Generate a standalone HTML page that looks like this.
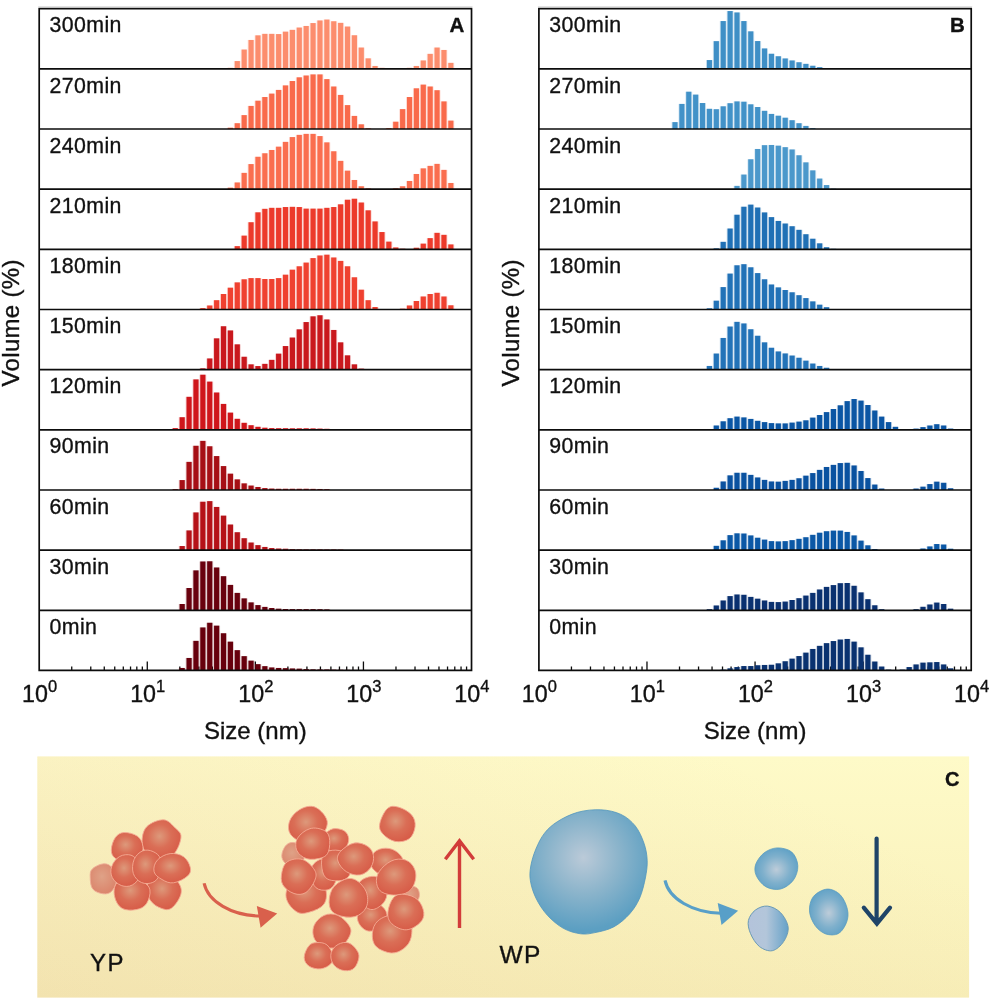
<!DOCTYPE html>
<html lang="en"><head><meta charset="utf-8"><title>Particle size distributions</title>
<style>
html,body{margin:0;padding:0;background:#fff;}
body{width:991px;height:1006px;overflow:hidden;font-family:"Liberation Sans",Arial,sans-serif;}
svg{display:block;}
text{stroke:#111;stroke-width:.35px;}
</style></head><body>
<svg width="991" height="1006" viewBox="0 0 991 1006" font-family="'Liberation Sans', Arial, sans-serif" fill="#111">
<defs>
<linearGradient id="bgv" x1="0" y1="0" x2="0" y2="1"><stop offset="0" stop-color="#fefac8"/><stop offset="1" stop-color="#f8efb8"/></linearGradient>
<linearGradient id="bgh" x1="0" y1="1" x2="1" y2="0.5"><stop offset="0" stop-color="#c68168" stop-opacity="0.11"/><stop offset="1" stop-color="#c68168" stop-opacity="0"/></linearGradient>
<radialGradient id="rg" cx="0.45" cy="0.42" r="0.6"><stop offset="0" stop-color="#dd997b"/><stop offset="0.5" stop-color="#da6e56"/><stop offset="1" stop-color="#d75b47"/></radialGradient>
<radialGradient id="rgl" cx="0.45" cy="0.42" r="0.6"><stop offset="0" stop-color="#dfa287"/><stop offset="1" stop-color="#db846b"/></radialGradient>
<radialGradient id="bg1" gradientUnits="userSpaceOnUse" cx="583.4" cy="857.7" r="72"><stop offset="0" stop-color="#bbcad8"/><stop offset="0.5" stop-color="#8bb4cb"/><stop offset="1" stop-color="#5c9fc2"/></radialGradient>
<radialGradient id="bg2" cx="0.5" cy="0.52" r="0.58"><stop offset="0" stop-color="#bdccd9"/><stop offset="0.55" stop-color="#7fb0cc"/><stop offset="1" stop-color="#5b9fc5"/></radialGradient>
<linearGradient id="bg3" x1="0" y1="0" x2="1" y2="0"><stop offset="0" stop-color="#b4c3db"/><stop offset="0.45" stop-color="#b3c6da"/><stop offset="1" stop-color="#66a2c8"/></linearGradient>
</defs>

<g>
<path d="M71.74 670.46v-4M90.77 670.46v-4M104.27 670.46v-4M114.74 670.46v-4M123.3 670.46v-4M130.54 670.46v-4M136.81 670.46v-4M142.33 670.46v-4M147.28 670.46v-9M179.82 670.46v-4M198.85 670.46v-4M212.35 670.46v-4M222.82 670.46v-4M231.38 670.46v-4M238.62 670.46v-4M244.89 670.46v-4M250.41 670.46v-4M255.36 670.46v-9M287.9 670.46v-4M306.93 670.46v-4M320.43 670.46v-4M330.9 670.46v-4M339.46 670.46v-4M346.7 670.46v-4M352.97 670.46v-4M358.49 670.46v-4M363.44 670.46v-9M395.98 670.46v-4M415.01 670.46v-4M428.51 670.46v-4M438.98 670.46v-4M447.54 670.46v-4M454.78 670.46v-4M461.05 670.46v-4M466.57 670.46v-4" stroke="#0d0d0d" stroke-width="1.3" fill="none"/>
<g fill="#fc8d6d" opacity="0.22"><rect x="226.97" y="67.86" width="6.89" height="1"/><rect x="233.86" y="61.06" width="6.89" height="7.8"/><rect x="240.74" y="49.56" width="6.89" height="19.3"/><rect x="247.63" y="39.96" width="6.89" height="28.9"/><rect x="254.52" y="35.36" width="6.89" height="33.5"/><rect x="261.41" y="33.86" width="6.89" height="35"/><rect x="268.3" y="33.86" width="6.89" height="35"/><rect x="275.19" y="34.06" width="6.89" height="34.8"/><rect x="282.08" y="31.66" width="6.89" height="37.2"/><rect x="288.97" y="29.86" width="6.89" height="39"/><rect x="295.85" y="27.56" width="6.89" height="41.3"/><rect x="302.74" y="25.96" width="6.89" height="42.9"/><rect x="309.63" y="23.06" width="6.89" height="45.8"/><rect x="316.52" y="20.46" width="6.89" height="48.4"/><rect x="323.41" y="19.56" width="6.89" height="49.3"/><rect x="330.3" y="21.26" width="6.89" height="47.6"/><rect x="337.19" y="22.86" width="6.89" height="46"/><rect x="344.08" y="26.56" width="6.89" height="42.3"/><rect x="350.97" y="35.26" width="6.89" height="33.6"/><rect x="357.85" y="47.56" width="6.89" height="21.3"/><rect x="364.74" y="58.36" width="6.89" height="10.5"/><rect x="371.63" y="65.96" width="6.89" height="2.9"/><rect x="378.52" y="67.86" width="6.89" height="1"/><rect x="406.08" y="67.86" width="6.89" height="1"/><rect x="412.96" y="65.96" width="6.89" height="2.9"/><rect x="419.85" y="60.46" width="6.89" height="8.4"/><rect x="426.74" y="53.86" width="6.89" height="15"/><rect x="433.63" y="47.56" width="6.89" height="21.3"/><rect x="440.52" y="49.96" width="6.89" height="18.9"/><rect x="447.41" y="62.86" width="6.89" height="6"/></g>
<g fill="#fc8d6d"><rect x="227.84" y="67.86" width="5.15" height="1"/><rect x="234.72" y="61.06" width="5.15" height="7.8"/><rect x="241.61" y="49.56" width="5.15" height="19.3"/><rect x="248.5" y="39.96" width="5.15" height="28.9"/><rect x="255.39" y="35.36" width="5.15" height="33.5"/><rect x="262.28" y="33.86" width="5.15" height="35"/><rect x="269.17" y="33.86" width="5.15" height="35"/><rect x="276.06" y="34.06" width="5.15" height="34.8"/><rect x="282.95" y="31.66" width="5.15" height="37.2"/><rect x="289.84" y="29.86" width="5.15" height="39"/><rect x="296.72" y="27.56" width="5.15" height="41.3"/><rect x="303.61" y="25.96" width="5.15" height="42.9"/><rect x="310.5" y="23.06" width="5.15" height="45.8"/><rect x="317.39" y="20.46" width="5.15" height="48.4"/><rect x="324.28" y="19.56" width="5.15" height="49.3"/><rect x="331.17" y="21.26" width="5.15" height="47.6"/><rect x="338.06" y="22.86" width="5.15" height="46"/><rect x="344.95" y="26.56" width="5.15" height="42.3"/><rect x="351.83" y="35.26" width="5.15" height="33.6"/><rect x="358.72" y="47.56" width="5.15" height="21.3"/><rect x="365.61" y="58.36" width="5.15" height="10.5"/><rect x="372.5" y="65.96" width="5.15" height="2.9"/><rect x="379.39" y="67.86" width="5.15" height="1"/><rect x="406.95" y="67.86" width="5.15" height="1"/><rect x="413.83" y="65.96" width="5.15" height="2.9"/><rect x="420.72" y="60.46" width="5.15" height="8.4"/><rect x="427.61" y="53.86" width="5.15" height="15"/><rect x="434.5" y="47.56" width="5.15" height="21.3"/><rect x="441.39" y="49.96" width="5.15" height="18.9"/><rect x="448.28" y="62.86" width="5.15" height="6"/></g>
<g fill="#f96a4b" opacity="0.22"><rect x="226.97" y="127.72" width="6.89" height="1.3"/><rect x="233.86" y="123.22" width="6.89" height="5.8"/><rect x="240.74" y="115.12" width="6.89" height="13.9"/><rect x="247.63" y="105.92" width="6.89" height="23.1"/><rect x="254.52" y="100.72" width="6.89" height="28.3"/><rect x="261.41" y="97.02" width="6.89" height="32"/><rect x="268.3" y="93.62" width="6.89" height="35.4"/><rect x="275.19" y="89.92" width="6.89" height="39.1"/><rect x="282.08" y="85.42" width="6.89" height="43.6"/><rect x="288.97" y="81.02" width="6.89" height="48"/><rect x="295.85" y="77.32" width="6.89" height="51.7"/><rect x="302.74" y="75.52" width="6.89" height="53.5"/><rect x="309.63" y="74.42" width="6.89" height="54.6"/><rect x="316.52" y="74.42" width="6.89" height="54.6"/><rect x="323.41" y="79.12" width="6.89" height="49.9"/><rect x="330.3" y="86.52" width="6.89" height="42.5"/><rect x="337.19" y="94.92" width="6.89" height="34.1"/><rect x="344.08" y="105.12" width="6.89" height="23.9"/><rect x="350.97" y="115.92" width="6.89" height="13.1"/><rect x="357.85" y="124.32" width="6.89" height="4.7"/><rect x="364.74" y="128.22" width="6.89" height="0.8"/><rect x="385.41" y="128.02" width="6.89" height="1"/><rect x="392.3" y="121.72" width="6.89" height="7.3"/><rect x="399.19" y="109.12" width="6.89" height="19.9"/><rect x="406.08" y="97.02" width="6.89" height="32"/><rect x="412.96" y="88.32" width="6.89" height="40.7"/><rect x="419.85" y="84.62" width="6.89" height="44.4"/><rect x="426.74" y="86.52" width="6.89" height="42.5"/><rect x="433.63" y="90.22" width="6.89" height="38.8"/><rect x="440.52" y="101.42" width="6.89" height="27.6"/><rect x="447.41" y="120.62" width="6.89" height="8.4"/></g>
<g fill="#f96a4b"><rect x="227.84" y="127.72" width="5.15" height="1.3"/><rect x="234.72" y="123.22" width="5.15" height="5.8"/><rect x="241.61" y="115.12" width="5.15" height="13.9"/><rect x="248.5" y="105.92" width="5.15" height="23.1"/><rect x="255.39" y="100.72" width="5.15" height="28.3"/><rect x="262.28" y="97.02" width="5.15" height="32"/><rect x="269.17" y="93.62" width="5.15" height="35.4"/><rect x="276.06" y="89.92" width="5.15" height="39.1"/><rect x="282.95" y="85.42" width="5.15" height="43.6"/><rect x="289.84" y="81.02" width="5.15" height="48"/><rect x="296.72" y="77.32" width="5.15" height="51.7"/><rect x="303.61" y="75.52" width="5.15" height="53.5"/><rect x="310.5" y="74.42" width="5.15" height="54.6"/><rect x="317.39" y="74.42" width="5.15" height="54.6"/><rect x="324.28" y="79.12" width="5.15" height="49.9"/><rect x="331.17" y="86.52" width="5.15" height="42.5"/><rect x="338.06" y="94.92" width="5.15" height="34.1"/><rect x="344.95" y="105.12" width="5.15" height="23.9"/><rect x="351.83" y="115.92" width="5.15" height="13.1"/><rect x="358.72" y="124.32" width="5.15" height="4.7"/><rect x="365.61" y="128.22" width="5.15" height="0.8"/><rect x="386.28" y="128.02" width="5.15" height="1"/><rect x="393.17" y="121.72" width="5.15" height="7.3"/><rect x="400.06" y="109.12" width="5.15" height="19.9"/><rect x="406.95" y="97.02" width="5.15" height="32"/><rect x="413.83" y="88.32" width="5.15" height="40.7"/><rect x="420.72" y="84.62" width="5.15" height="44.4"/><rect x="427.61" y="86.52" width="5.15" height="42.5"/><rect x="434.5" y="90.22" width="5.15" height="38.8"/><rect x="441.39" y="101.42" width="5.15" height="27.6"/><rect x="448.28" y="120.62" width="5.15" height="8.4"/></g>
<g fill="#fa6e4f" opacity="0.22"><rect x="226.97" y="187.68" width="6.89" height="1.5"/><rect x="233.86" y="182.48" width="6.89" height="6.7"/><rect x="240.74" y="172.88" width="6.89" height="16.3"/><rect x="247.63" y="164.08" width="6.89" height="25.1"/><rect x="254.52" y="156.78" width="6.89" height="32.4"/><rect x="261.41" y="153.28" width="6.89" height="35.9"/><rect x="268.3" y="149.98" width="6.89" height="39.2"/><rect x="275.19" y="146.68" width="6.89" height="42.5"/><rect x="282.08" y="141.88" width="6.89" height="47.3"/><rect x="288.97" y="137.08" width="6.89" height="52.1"/><rect x="295.85" y="134.88" width="6.89" height="54.3"/><rect x="302.74" y="133.88" width="6.89" height="55.3"/><rect x="309.63" y="133.88" width="6.89" height="55.3"/><rect x="316.52" y="136.08" width="6.89" height="53.1"/><rect x="323.41" y="142.38" width="6.89" height="46.8"/><rect x="330.3" y="151.28" width="6.89" height="37.9"/><rect x="337.19" y="160.88" width="6.89" height="28.3"/><rect x="344.08" y="170.68" width="6.89" height="18.5"/><rect x="350.97" y="179.98" width="6.89" height="9.2"/><rect x="357.85" y="186.28" width="6.89" height="2.9"/><rect x="364.74" y="188.28" width="6.89" height="0.9"/><rect x="392.3" y="188.28" width="6.89" height="0.9"/><rect x="399.19" y="186.28" width="6.89" height="2.9"/><rect x="406.08" y="180.98" width="6.89" height="8.2"/><rect x="412.96" y="173.98" width="6.89" height="15.2"/><rect x="419.85" y="168.38" width="6.89" height="20.8"/><rect x="426.74" y="165.88" width="6.89" height="23.3"/><rect x="433.63" y="163.88" width="6.89" height="25.3"/><rect x="440.52" y="169.88" width="6.89" height="19.3"/><rect x="447.41" y="182.98" width="6.89" height="6.2"/></g>
<g fill="#fa6e4f"><rect x="227.84" y="187.68" width="5.15" height="1.5"/><rect x="234.72" y="182.48" width="5.15" height="6.7"/><rect x="241.61" y="172.88" width="5.15" height="16.3"/><rect x="248.5" y="164.08" width="5.15" height="25.1"/><rect x="255.39" y="156.78" width="5.15" height="32.4"/><rect x="262.28" y="153.28" width="5.15" height="35.9"/><rect x="269.17" y="149.98" width="5.15" height="39.2"/><rect x="276.06" y="146.68" width="5.15" height="42.5"/><rect x="282.95" y="141.88" width="5.15" height="47.3"/><rect x="289.84" y="137.08" width="5.15" height="52.1"/><rect x="296.72" y="134.88" width="5.15" height="54.3"/><rect x="303.61" y="133.88" width="5.15" height="55.3"/><rect x="310.5" y="133.88" width="5.15" height="55.3"/><rect x="317.39" y="136.08" width="5.15" height="53.1"/><rect x="324.28" y="142.38" width="5.15" height="46.8"/><rect x="331.17" y="151.28" width="5.15" height="37.9"/><rect x="338.06" y="160.88" width="5.15" height="28.3"/><rect x="344.95" y="170.68" width="5.15" height="18.5"/><rect x="351.83" y="179.98" width="5.15" height="9.2"/><rect x="358.72" y="186.28" width="5.15" height="2.9"/><rect x="365.61" y="188.28" width="5.15" height="0.9"/><rect x="393.17" y="188.28" width="5.15" height="0.9"/><rect x="400.06" y="186.28" width="5.15" height="2.9"/><rect x="406.95" y="180.98" width="5.15" height="8.2"/><rect x="413.83" y="173.98" width="5.15" height="15.2"/><rect x="420.72" y="168.38" width="5.15" height="20.8"/><rect x="427.61" y="165.88" width="5.15" height="23.3"/><rect x="434.5" y="163.88" width="5.15" height="25.3"/><rect x="441.39" y="169.88" width="5.15" height="19.3"/><rect x="448.28" y="182.98" width="5.15" height="6.2"/></g>
<g fill="#ec3a2b" opacity="0.22"><rect x="233.86" y="246.14" width="6.89" height="3.2"/><rect x="240.74" y="235.64" width="6.89" height="13.7"/><rect x="247.63" y="222.24" width="6.89" height="27.1"/><rect x="254.52" y="212.34" width="6.89" height="37"/><rect x="261.41" y="208.84" width="6.89" height="40.5"/><rect x="268.3" y="207.84" width="6.89" height="41.5"/><rect x="275.19" y="207.84" width="6.89" height="41.5"/><rect x="282.08" y="207.04" width="6.89" height="42.3"/><rect x="288.97" y="206.84" width="6.89" height="42.5"/><rect x="295.85" y="207.04" width="6.89" height="42.3"/><rect x="302.74" y="208.64" width="6.89" height="40.7"/><rect x="309.63" y="208.64" width="6.89" height="40.7"/><rect x="316.52" y="208.64" width="6.89" height="40.7"/><rect x="323.41" y="207.84" width="6.89" height="41.5"/><rect x="330.3" y="207.04" width="6.89" height="42.3"/><rect x="337.19" y="204.34" width="6.89" height="45"/><rect x="344.08" y="199.74" width="6.89" height="49.6"/><rect x="350.97" y="198.74" width="6.89" height="50.6"/><rect x="357.85" y="202.54" width="6.89" height="46.8"/><rect x="364.74" y="210.34" width="6.89" height="39"/><rect x="371.63" y="221.44" width="6.89" height="27.9"/><rect x="378.52" y="232.04" width="6.89" height="17.3"/><rect x="385.41" y="241.64" width="6.89" height="7.7"/><rect x="392.3" y="247.44" width="6.89" height="1.9"/><rect x="399.19" y="248.74" width="6.89" height="0.6"/><rect x="412.96" y="247.74" width="6.89" height="1.6"/><rect x="419.85" y="243.64" width="6.89" height="5.7"/><rect x="426.74" y="238.14" width="6.89" height="11.2"/><rect x="433.63" y="232.84" width="6.89" height="16.5"/><rect x="440.52" y="234.84" width="6.89" height="14.5"/><rect x="447.41" y="244.44" width="6.89" height="4.9"/></g>
<g fill="#ec3a2b"><rect x="234.72" y="246.14" width="5.15" height="3.2"/><rect x="241.61" y="235.64" width="5.15" height="13.7"/><rect x="248.5" y="222.24" width="5.15" height="27.1"/><rect x="255.39" y="212.34" width="5.15" height="37"/><rect x="262.28" y="208.84" width="5.15" height="40.5"/><rect x="269.17" y="207.84" width="5.15" height="41.5"/><rect x="276.06" y="207.84" width="5.15" height="41.5"/><rect x="282.95" y="207.04" width="5.15" height="42.3"/><rect x="289.84" y="206.84" width="5.15" height="42.5"/><rect x="296.72" y="207.04" width="5.15" height="42.3"/><rect x="303.61" y="208.64" width="5.15" height="40.7"/><rect x="310.5" y="208.64" width="5.15" height="40.7"/><rect x="317.39" y="208.64" width="5.15" height="40.7"/><rect x="324.28" y="207.84" width="5.15" height="41.5"/><rect x="331.17" y="207.04" width="5.15" height="42.3"/><rect x="338.06" y="204.34" width="5.15" height="45"/><rect x="344.95" y="199.74" width="5.15" height="49.6"/><rect x="351.83" y="198.74" width="5.15" height="50.6"/><rect x="358.72" y="202.54" width="5.15" height="46.8"/><rect x="365.61" y="210.34" width="5.15" height="39"/><rect x="372.5" y="221.44" width="5.15" height="27.9"/><rect x="379.39" y="232.04" width="5.15" height="17.3"/><rect x="386.28" y="241.64" width="5.15" height="7.7"/><rect x="393.17" y="247.44" width="5.15" height="1.9"/><rect x="400.06" y="248.74" width="5.15" height="0.6"/><rect x="413.83" y="247.74" width="5.15" height="1.6"/><rect x="420.72" y="243.64" width="5.15" height="5.7"/><rect x="427.61" y="238.14" width="5.15" height="11.2"/><rect x="434.5" y="232.84" width="5.15" height="16.5"/><rect x="441.39" y="234.84" width="5.15" height="14.5"/><rect x="448.28" y="244.44" width="5.15" height="4.9"/></g>
<g fill="#ef4130" opacity="0.22"><rect x="199.41" y="308.1" width="6.89" height="1.4"/><rect x="206.3" y="305.5" width="6.89" height="4"/><rect x="213.19" y="300.2" width="6.89" height="9.3"/><rect x="220.08" y="294" width="6.89" height="15.5"/><rect x="226.97" y="287.7" width="6.89" height="21.8"/><rect x="233.86" y="282.4" width="6.89" height="27.1"/><rect x="240.74" y="279.3" width="6.89" height="30.2"/><rect x="247.63" y="278.1" width="6.89" height="31.4"/><rect x="254.52" y="278.1" width="6.89" height="31.4"/><rect x="261.41" y="279" width="6.89" height="30.5"/><rect x="268.3" y="279" width="6.89" height="30.5"/><rect x="275.19" y="278.1" width="6.89" height="31.4"/><rect x="282.08" y="274.7" width="6.89" height="34.8"/><rect x="288.97" y="269.7" width="6.89" height="39.8"/><rect x="295.85" y="266.3" width="6.89" height="43.2"/><rect x="302.74" y="262.6" width="6.89" height="46.9"/><rect x="309.63" y="258.1" width="6.89" height="51.4"/><rect x="316.52" y="255.5" width="6.89" height="54"/><rect x="323.41" y="254.7" width="6.89" height="54.8"/><rect x="330.3" y="257.5" width="6.89" height="52"/><rect x="337.19" y="260.9" width="6.89" height="48.6"/><rect x="344.08" y="266.3" width="6.89" height="43.2"/><rect x="350.97" y="277.3" width="6.89" height="32.2"/><rect x="357.85" y="289.7" width="6.89" height="19.8"/><rect x="364.74" y="300.2" width="6.89" height="9.3"/><rect x="371.63" y="307" width="6.89" height="2.5"/><rect x="399.19" y="308.7" width="6.89" height="0.8"/><rect x="406.08" y="305.5" width="6.89" height="4"/><rect x="412.96" y="301" width="6.89" height="8.5"/><rect x="419.85" y="296.5" width="6.89" height="13"/><rect x="426.74" y="294" width="6.89" height="15.5"/><rect x="433.63" y="292.8" width="6.89" height="16.7"/><rect x="440.52" y="296.5" width="6.89" height="13"/><rect x="447.41" y="305.3" width="6.89" height="4.2"/></g>
<g fill="#ef4130"><rect x="200.28" y="308.1" width="5.15" height="1.4"/><rect x="207.17" y="305.5" width="5.15" height="4"/><rect x="214.06" y="300.2" width="5.15" height="9.3"/><rect x="220.95" y="294" width="5.15" height="15.5"/><rect x="227.84" y="287.7" width="5.15" height="21.8"/><rect x="234.72" y="282.4" width="5.15" height="27.1"/><rect x="241.61" y="279.3" width="5.15" height="30.2"/><rect x="248.5" y="278.1" width="5.15" height="31.4"/><rect x="255.39" y="278.1" width="5.15" height="31.4"/><rect x="262.28" y="279" width="5.15" height="30.5"/><rect x="269.17" y="279" width="5.15" height="30.5"/><rect x="276.06" y="278.1" width="5.15" height="31.4"/><rect x="282.95" y="274.7" width="5.15" height="34.8"/><rect x="289.84" y="269.7" width="5.15" height="39.8"/><rect x="296.72" y="266.3" width="5.15" height="43.2"/><rect x="303.61" y="262.6" width="5.15" height="46.9"/><rect x="310.5" y="258.1" width="5.15" height="51.4"/><rect x="317.39" y="255.5" width="5.15" height="54"/><rect x="324.28" y="254.7" width="5.15" height="54.8"/><rect x="331.17" y="257.5" width="5.15" height="52"/><rect x="338.06" y="260.9" width="5.15" height="48.6"/><rect x="344.95" y="266.3" width="5.15" height="43.2"/><rect x="351.83" y="277.3" width="5.15" height="32.2"/><rect x="358.72" y="289.7" width="5.15" height="19.8"/><rect x="365.61" y="300.2" width="5.15" height="9.3"/><rect x="372.5" y="307" width="5.15" height="2.5"/><rect x="400.06" y="308.7" width="5.15" height="0.8"/><rect x="406.95" y="305.5" width="5.15" height="4"/><rect x="413.83" y="301" width="5.15" height="8.5"/><rect x="420.72" y="296.5" width="5.15" height="13"/><rect x="427.61" y="294" width="5.15" height="15.5"/><rect x="434.5" y="292.8" width="5.15" height="16.7"/><rect x="441.39" y="296.5" width="5.15" height="13"/><rect x="448.28" y="305.3" width="5.15" height="4.2"/></g>
<g fill="#c9181d" opacity="0.22"><rect x="199.41" y="368.36" width="6.89" height="1.3"/><rect x="206.3" y="358.46" width="6.89" height="11.2"/><rect x="213.19" y="338.36" width="6.89" height="31.3"/><rect x="220.08" y="326.26" width="6.89" height="43.4"/><rect x="226.97" y="330.46" width="6.89" height="39.2"/><rect x="233.86" y="344.36" width="6.89" height="25.3"/><rect x="240.74" y="356.76" width="6.89" height="12.9"/><rect x="247.63" y="364.36" width="6.89" height="5.3"/><rect x="254.52" y="366.06" width="6.89" height="3.6"/><rect x="261.41" y="363.86" width="6.89" height="5.8"/><rect x="268.3" y="359.86" width="6.89" height="9.8"/><rect x="275.19" y="353.66" width="6.89" height="16"/><rect x="282.08" y="346.06" width="6.89" height="23.6"/><rect x="288.97" y="337.56" width="6.89" height="32.1"/><rect x="295.85" y="329.36" width="6.89" height="40.3"/><rect x="302.74" y="322.06" width="6.89" height="47.6"/><rect x="309.63" y="316.36" width="6.89" height="53.3"/><rect x="316.52" y="315.26" width="6.89" height="54.4"/><rect x="323.41" y="319.46" width="6.89" height="50.2"/><rect x="330.3" y="329.96" width="6.89" height="39.7"/><rect x="337.19" y="342.36" width="6.89" height="27.3"/><rect x="344.08" y="355.36" width="6.89" height="14.3"/><rect x="350.97" y="364.36" width="6.89" height="5.3"/><rect x="357.85" y="368.66" width="6.89" height="1"/></g>
<g fill="#c9181d"><rect x="200.28" y="368.36" width="5.15" height="1.3"/><rect x="207.17" y="358.46" width="5.15" height="11.2"/><rect x="214.06" y="338.36" width="5.15" height="31.3"/><rect x="220.95" y="326.26" width="5.15" height="43.4"/><rect x="227.84" y="330.46" width="5.15" height="39.2"/><rect x="234.72" y="344.36" width="5.15" height="25.3"/><rect x="241.61" y="356.76" width="5.15" height="12.9"/><rect x="248.5" y="364.36" width="5.15" height="5.3"/><rect x="255.39" y="366.06" width="5.15" height="3.6"/><rect x="262.28" y="363.86" width="5.15" height="5.8"/><rect x="269.17" y="359.86" width="5.15" height="9.8"/><rect x="276.06" y="353.66" width="5.15" height="16"/><rect x="282.95" y="346.06" width="5.15" height="23.6"/><rect x="289.84" y="337.56" width="5.15" height="32.1"/><rect x="296.72" y="329.36" width="5.15" height="40.3"/><rect x="303.61" y="322.06" width="5.15" height="47.6"/><rect x="310.5" y="316.36" width="5.15" height="53.3"/><rect x="317.39" y="315.26" width="5.15" height="54.4"/><rect x="324.28" y="319.46" width="5.15" height="50.2"/><rect x="331.17" y="329.96" width="5.15" height="39.7"/><rect x="338.06" y="342.36" width="5.15" height="27.3"/><rect x="344.95" y="355.36" width="5.15" height="14.3"/><rect x="351.83" y="364.36" width="5.15" height="5.3"/><rect x="358.72" y="368.66" width="5.15" height="1"/></g>
<g fill="#cf161b" opacity="0.22"><rect x="171.86" y="428.12" width="6.89" height="1.7"/><rect x="178.74" y="417.22" width="6.89" height="12.6"/><rect x="185.63" y="396.82" width="6.89" height="33"/><rect x="192.52" y="379.42" width="6.89" height="50.4"/><rect x="199.41" y="374.72" width="6.89" height="55.1"/><rect x="206.3" y="381.62" width="6.89" height="48.2"/><rect x="213.19" y="392.52" width="6.89" height="37.3"/><rect x="220.08" y="403.92" width="6.89" height="25.9"/><rect x="226.97" y="412.62" width="6.89" height="17.2"/><rect x="233.86" y="418.82" width="6.89" height="11"/><rect x="240.74" y="422.82" width="6.89" height="7"/><rect x="247.63" y="425.22" width="6.89" height="4.6"/><rect x="254.52" y="426.82" width="6.89" height="3"/><rect x="261.41" y="427.72" width="6.89" height="2.1"/><rect x="268.3" y="428.12" width="6.89" height="1.7"/><rect x="275.19" y="428.22" width="6.89" height="1.6"/><rect x="282.08" y="428.22" width="6.89" height="1.6"/><rect x="288.97" y="428.32" width="6.89" height="1.5"/><rect x="295.85" y="428.32" width="6.89" height="1.5"/><rect x="302.74" y="428.32" width="6.89" height="1.5"/><rect x="309.63" y="428.42" width="6.89" height="1.4"/><rect x="316.52" y="428.62" width="6.89" height="1.2"/><rect x="323.41" y="428.82" width="6.89" height="1"/><rect x="330.3" y="429.02" width="6.89" height="0.8"/><rect x="337.19" y="429.22" width="6.89" height="0.6"/></g>
<g fill="#cf161b"><rect x="172.73" y="428.12" width="5.15" height="1.7"/><rect x="179.61" y="417.22" width="5.15" height="12.6"/><rect x="186.5" y="396.82" width="5.15" height="33"/><rect x="193.39" y="379.42" width="5.15" height="50.4"/><rect x="200.28" y="374.72" width="5.15" height="55.1"/><rect x="207.17" y="381.62" width="5.15" height="48.2"/><rect x="214.06" y="392.52" width="5.15" height="37.3"/><rect x="220.95" y="403.92" width="5.15" height="25.9"/><rect x="227.84" y="412.62" width="5.15" height="17.2"/><rect x="234.72" y="418.82" width="5.15" height="11"/><rect x="241.61" y="422.82" width="5.15" height="7"/><rect x="248.5" y="425.22" width="5.15" height="4.6"/><rect x="255.39" y="426.82" width="5.15" height="3"/><rect x="262.28" y="427.72" width="5.15" height="2.1"/><rect x="269.17" y="428.12" width="5.15" height="1.7"/><rect x="276.06" y="428.22" width="5.15" height="1.6"/><rect x="282.95" y="428.22" width="5.15" height="1.6"/><rect x="289.84" y="428.32" width="5.15" height="1.5"/><rect x="296.72" y="428.32" width="5.15" height="1.5"/><rect x="303.61" y="428.32" width="5.15" height="1.5"/><rect x="310.5" y="428.42" width="5.15" height="1.4"/><rect x="317.39" y="428.62" width="5.15" height="1.2"/><rect x="324.28" y="428.82" width="5.15" height="1"/><rect x="331.17" y="429.02" width="5.15" height="0.8"/><rect x="338.06" y="429.22" width="5.15" height="0.6"/></g>
<g fill="#a60f15" opacity="0.22"><rect x="171.86" y="489.18" width="6.89" height="0.8"/><rect x="178.74" y="480.08" width="6.89" height="9.9"/><rect x="185.63" y="461.88" width="6.89" height="28.1"/><rect x="192.52" y="445.78" width="6.89" height="44.2"/><rect x="199.41" y="440.88" width="6.89" height="49.1"/><rect x="206.3" y="446.28" width="6.89" height="43.7"/><rect x="213.19" y="456.08" width="6.89" height="33.9"/><rect x="220.08" y="466.08" width="6.89" height="23.9"/><rect x="226.97" y="473.68" width="6.89" height="16.3"/><rect x="233.86" y="479.38" width="6.89" height="10.6"/><rect x="240.74" y="483.38" width="6.89" height="6.6"/><rect x="247.63" y="485.58" width="6.89" height="4.4"/><rect x="254.52" y="486.98" width="6.89" height="3"/><rect x="261.41" y="488.08" width="6.89" height="1.9"/><rect x="268.3" y="488.58" width="6.89" height="1.4"/><rect x="275.19" y="488.78" width="6.89" height="1.2"/><rect x="282.08" y="488.78" width="6.89" height="1.2"/><rect x="288.97" y="488.78" width="6.89" height="1.2"/><rect x="295.85" y="488.78" width="6.89" height="1.2"/><rect x="302.74" y="488.78" width="6.89" height="1.2"/><rect x="309.63" y="488.88" width="6.89" height="1.1"/><rect x="316.52" y="488.98" width="6.89" height="1"/><rect x="323.41" y="489.18" width="6.89" height="0.8"/></g>
<g fill="#a60f15"><rect x="172.73" y="489.18" width="5.15" height="0.8"/><rect x="179.61" y="480.08" width="5.15" height="9.9"/><rect x="186.5" y="461.88" width="5.15" height="28.1"/><rect x="193.39" y="445.78" width="5.15" height="44.2"/><rect x="200.28" y="440.88" width="5.15" height="49.1"/><rect x="207.17" y="446.28" width="5.15" height="43.7"/><rect x="214.06" y="456.08" width="5.15" height="33.9"/><rect x="220.95" y="466.08" width="5.15" height="23.9"/><rect x="227.84" y="473.68" width="5.15" height="16.3"/><rect x="234.72" y="479.38" width="5.15" height="10.6"/><rect x="241.61" y="483.38" width="5.15" height="6.6"/><rect x="248.5" y="485.58" width="5.15" height="4.4"/><rect x="255.39" y="486.98" width="5.15" height="3"/><rect x="262.28" y="488.08" width="5.15" height="1.9"/><rect x="269.17" y="488.58" width="5.15" height="1.4"/><rect x="276.06" y="488.78" width="5.15" height="1.2"/><rect x="282.95" y="488.78" width="5.15" height="1.2"/><rect x="289.84" y="488.78" width="5.15" height="1.2"/><rect x="296.72" y="488.78" width="5.15" height="1.2"/><rect x="303.61" y="488.78" width="5.15" height="1.2"/><rect x="310.5" y="488.88" width="5.15" height="1.1"/><rect x="317.39" y="488.98" width="5.15" height="1"/><rect x="324.28" y="489.18" width="5.15" height="0.8"/></g>
<g fill="#b51218" opacity="0.22"><rect x="178.74" y="546.04" width="6.89" height="4.1"/><rect x="185.63" y="530.44" width="6.89" height="19.7"/><rect x="192.52" y="512.44" width="6.89" height="37.7"/><rect x="199.41" y="501.74" width="6.89" height="48.4"/><rect x="206.3" y="501.14" width="6.89" height="49"/><rect x="213.19" y="506.94" width="6.89" height="43.2"/><rect x="220.08" y="515.64" width="6.89" height="34.5"/><rect x="226.97" y="524.54" width="6.89" height="25.6"/><rect x="233.86" y="532.24" width="6.89" height="17.9"/><rect x="240.74" y="538.24" width="6.89" height="11.9"/><rect x="247.63" y="542.54" width="6.89" height="7.6"/><rect x="254.52" y="545.14" width="6.89" height="5"/><rect x="261.41" y="546.94" width="6.89" height="3.2"/><rect x="268.3" y="548.04" width="6.89" height="2.1"/><rect x="275.19" y="548.54" width="6.89" height="1.6"/><rect x="282.08" y="548.74" width="6.89" height="1.4"/><rect x="288.97" y="549.14" width="6.89" height="1"/><rect x="295.85" y="549.34" width="6.89" height="0.8"/><rect x="302.74" y="549.44" width="6.89" height="0.7"/><rect x="309.63" y="549.44" width="6.89" height="0.7"/><rect x="316.52" y="549.44" width="6.89" height="0.7"/><rect x="323.41" y="549.54" width="6.89" height="0.6"/><rect x="330.3" y="549.54" width="6.89" height="0.6"/><rect x="337.19" y="549.64" width="6.89" height="0.5"/></g>
<g fill="#b51218"><rect x="179.61" y="546.04" width="5.15" height="4.1"/><rect x="186.5" y="530.44" width="5.15" height="19.7"/><rect x="193.39" y="512.44" width="5.15" height="37.7"/><rect x="200.28" y="501.74" width="5.15" height="48.4"/><rect x="207.17" y="501.14" width="5.15" height="49"/><rect x="214.06" y="506.94" width="5.15" height="43.2"/><rect x="220.95" y="515.64" width="5.15" height="34.5"/><rect x="227.84" y="524.54" width="5.15" height="25.6"/><rect x="234.72" y="532.24" width="5.15" height="17.9"/><rect x="241.61" y="538.24" width="5.15" height="11.9"/><rect x="248.5" y="542.54" width="5.15" height="7.6"/><rect x="255.39" y="545.14" width="5.15" height="5"/><rect x="262.28" y="546.94" width="5.15" height="3.2"/><rect x="269.17" y="548.04" width="5.15" height="2.1"/><rect x="276.06" y="548.54" width="5.15" height="1.6"/><rect x="282.95" y="548.74" width="5.15" height="1.4"/><rect x="289.84" y="549.14" width="5.15" height="1"/><rect x="296.72" y="549.34" width="5.15" height="0.8"/><rect x="303.61" y="549.44" width="5.15" height="0.7"/><rect x="310.5" y="549.44" width="5.15" height="0.7"/><rect x="317.39" y="549.44" width="5.15" height="0.7"/><rect x="324.28" y="549.54" width="5.15" height="0.6"/><rect x="331.17" y="549.54" width="5.15" height="0.6"/><rect x="338.06" y="549.64" width="5.15" height="0.5"/></g>
<g fill="#69010e" opacity="0.22"><rect x="178.74" y="604" width="6.89" height="6.3"/><rect x="185.63" y="588" width="6.89" height="22.3"/><rect x="192.52" y="570.4" width="6.89" height="39.9"/><rect x="199.41" y="561.5" width="6.89" height="48.8"/><rect x="206.3" y="561.3" width="6.89" height="49"/><rect x="213.19" y="567.5" width="6.89" height="42.8"/><rect x="220.08" y="576.2" width="6.89" height="34.1"/><rect x="226.97" y="584.9" width="6.89" height="25.4"/><rect x="233.86" y="592.9" width="6.89" height="17.4"/><rect x="240.74" y="598.4" width="6.89" height="11.9"/><rect x="247.63" y="602.4" width="6.89" height="7.9"/><rect x="254.52" y="605.1" width="6.89" height="5.2"/><rect x="261.41" y="606.9" width="6.89" height="3.4"/><rect x="268.3" y="608" width="6.89" height="2.3"/><rect x="275.19" y="608.7" width="6.89" height="1.6"/><rect x="282.08" y="609" width="6.89" height="1.3"/><rect x="288.97" y="609.1" width="6.89" height="1.2"/><rect x="295.85" y="609.1" width="6.89" height="1.2"/><rect x="302.74" y="609.1" width="6.89" height="1.2"/><rect x="309.63" y="609.1" width="6.89" height="1.2"/><rect x="316.52" y="609.2" width="6.89" height="1.1"/><rect x="323.41" y="609.4" width="6.89" height="0.9"/></g>
<g fill="#69010e"><rect x="179.61" y="604" width="5.15" height="6.3"/><rect x="186.5" y="588" width="5.15" height="22.3"/><rect x="193.39" y="570.4" width="5.15" height="39.9"/><rect x="200.28" y="561.5" width="5.15" height="48.8"/><rect x="207.17" y="561.3" width="5.15" height="49"/><rect x="214.06" y="567.5" width="5.15" height="42.8"/><rect x="220.95" y="576.2" width="5.15" height="34.1"/><rect x="227.84" y="584.9" width="5.15" height="25.4"/><rect x="234.72" y="592.9" width="5.15" height="17.4"/><rect x="241.61" y="598.4" width="5.15" height="11.9"/><rect x="248.5" y="602.4" width="5.15" height="7.9"/><rect x="255.39" y="605.1" width="5.15" height="5.2"/><rect x="262.28" y="606.9" width="5.15" height="3.4"/><rect x="269.17" y="608" width="5.15" height="2.3"/><rect x="276.06" y="608.7" width="5.15" height="1.6"/><rect x="282.95" y="609" width="5.15" height="1.3"/><rect x="289.84" y="609.1" width="5.15" height="1.2"/><rect x="296.72" y="609.1" width="5.15" height="1.2"/><rect x="303.61" y="609.1" width="5.15" height="1.2"/><rect x="310.5" y="609.1" width="5.15" height="1.2"/><rect x="317.39" y="609.2" width="5.15" height="1.1"/><rect x="324.28" y="609.4" width="5.15" height="0.9"/></g>
<g fill="#67000d" opacity="0.22"><rect x="178.74" y="667.96" width="6.89" height="2.5"/><rect x="185.63" y="657.96" width="6.89" height="12.5"/><rect x="192.52" y="640.86" width="6.89" height="29.6"/><rect x="199.41" y="627.46" width="6.89" height="43"/><rect x="206.3" y="622.76" width="6.89" height="47.7"/><rect x="213.19" y="625.66" width="6.89" height="44.8"/><rect x="220.08" y="633.26" width="6.89" height="37.2"/><rect x="226.97" y="641.66" width="6.89" height="28.8"/><rect x="233.86" y="650.16" width="6.89" height="20.3"/><rect x="240.74" y="656.16" width="6.89" height="14.3"/><rect x="247.63" y="660.66" width="6.89" height="9.8"/><rect x="254.52" y="664.16" width="6.89" height="6.3"/><rect x="261.41" y="666.16" width="6.89" height="4.3"/><rect x="268.3" y="667.46" width="6.89" height="3"/><rect x="275.19" y="667.96" width="6.89" height="2.5"/><rect x="282.08" y="668.16" width="6.89" height="2.3"/><rect x="288.97" y="668.46" width="6.89" height="2"/><rect x="295.85" y="668.66" width="6.89" height="1.8"/><rect x="302.74" y="669.06" width="6.89" height="1.4"/><rect x="309.63" y="669.36" width="6.89" height="1.1"/><rect x="316.52" y="669.46" width="6.89" height="1"/><rect x="323.41" y="669.46" width="6.89" height="1"/><rect x="330.3" y="669.66" width="6.89" height="0.8"/><rect x="337.19" y="669.76" width="6.89" height="0.7"/><rect x="344.08" y="669.86" width="6.89" height="0.6"/><rect x="350.97" y="669.96" width="6.89" height="0.5"/></g>
<g fill="#67000d"><rect x="179.61" y="667.96" width="5.15" height="2.5"/><rect x="186.5" y="657.96" width="5.15" height="12.5"/><rect x="193.39" y="640.86" width="5.15" height="29.6"/><rect x="200.28" y="627.46" width="5.15" height="43"/><rect x="207.17" y="622.76" width="5.15" height="47.7"/><rect x="214.06" y="625.66" width="5.15" height="44.8"/><rect x="220.95" y="633.26" width="5.15" height="37.2"/><rect x="227.84" y="641.66" width="5.15" height="28.8"/><rect x="234.72" y="650.16" width="5.15" height="20.3"/><rect x="241.61" y="656.16" width="5.15" height="14.3"/><rect x="248.5" y="660.66" width="5.15" height="9.8"/><rect x="255.39" y="664.16" width="5.15" height="6.3"/><rect x="262.28" y="666.16" width="5.15" height="4.3"/><rect x="269.17" y="667.46" width="5.15" height="3"/><rect x="276.06" y="667.96" width="5.15" height="2.5"/><rect x="282.95" y="668.16" width="5.15" height="2.3"/><rect x="289.84" y="668.46" width="5.15" height="2"/><rect x="296.72" y="668.66" width="5.15" height="1.8"/><rect x="303.61" y="669.06" width="5.15" height="1.4"/><rect x="310.5" y="669.36" width="5.15" height="1.1"/><rect x="317.39" y="669.46" width="5.15" height="1"/><rect x="324.28" y="669.46" width="5.15" height="1"/><rect x="331.17" y="669.66" width="5.15" height="0.8"/><rect x="338.06" y="669.76" width="5.15" height="0.7"/><rect x="344.95" y="669.86" width="5.15" height="0.6"/><rect x="351.83" y="669.96" width="5.15" height="0.5"/></g>
<path d="M39.2 8.7H471.52V670.46H39.2ZM39.2 68.86H471.52M39.2 129.02H471.52M39.2 189.18H471.52M39.2 249.34H471.52M39.2 309.5H471.52M39.2 369.66H471.52M39.2 429.82H471.52M39.2 489.98H471.52M39.2 550.14H471.52M39.2 610.3H471.52" stroke="#0d0d0d" stroke-width="1.7" fill="none"/>
<path d="M38.2 6.5H472.52" stroke="#e2e2e2" stroke-width="1"/>
<text x="49.5" y="32.35" font-size="21.3" letter-spacing="0.42">300min</text>
<text x="49.5" y="92.51" font-size="21.3" letter-spacing="0.42">270min</text>
<text x="49.5" y="152.67" font-size="21.3" letter-spacing="0.42">240min</text>
<text x="49.5" y="212.83" font-size="21.3" letter-spacing="0.42">210min</text>
<text x="49.5" y="272.99" font-size="21.3" letter-spacing="0.42">180min</text>
<text x="49.5" y="333.15" font-size="21.3" letter-spacing="0.42">150min</text>
<text x="49.5" y="393.31" font-size="21.3" letter-spacing="0.42">120min</text>
<text x="49.5" y="453.47" font-size="21.3" letter-spacing="0.42">90min</text>
<text x="49.5" y="513.63" font-size="21.3" letter-spacing="0.42">60min</text>
<text x="49.5" y="573.79" font-size="21.3" letter-spacing="0.42">30min</text>
<text x="49.5" y="633.95" font-size="21.3" letter-spacing="0.42">0min</text>
<text x="449.62" y="31.6" font-size="20.5" font-weight="bold">A</text>
<text x="22.05" y="702.3" font-size="23.3">10<tspan font-size="16.5" dy="-10.4">0</tspan></text>
<text x="130.13" y="702.3" font-size="23.3">10<tspan font-size="16.5" dy="-10.4">1</tspan></text>
<text x="238.21" y="702.3" font-size="23.3">10<tspan font-size="16.5" dy="-10.4">2</tspan></text>
<text x="346.29" y="702.3" font-size="23.3">10<tspan font-size="16.5" dy="-10.4">3</tspan></text>
<text x="454.37" y="702.3" font-size="23.3">10<tspan font-size="16.5" dy="-10.4">4</tspan></text>
<text x="255.36" y="738.8" font-size="24" text-anchor="middle">Size (nm)</text>
<text transform="translate(19.3 322.8) rotate(-90)" font-size="24" letter-spacing="0.31" text-anchor="middle">Volume (%)</text>
</g>
<g>
<path d="M571.44 670.46v-4M590.47 670.46v-4M603.97 670.46v-4M614.44 670.46v-4M623 670.46v-4M630.24 670.46v-4M636.51 670.46v-4M642.03 670.46v-4M646.98 670.46v-9M679.52 670.46v-4M698.55 670.46v-4M712.05 670.46v-4M722.52 670.46v-4M731.08 670.46v-4M738.32 670.46v-4M744.59 670.46v-4M750.11 670.46v-4M755.06 670.46v-9M787.6 670.46v-4M806.63 670.46v-4M820.13 670.46v-4M830.6 670.46v-4M839.16 670.46v-4M846.4 670.46v-4M852.67 670.46v-4M858.19 670.46v-4M863.14 670.46v-9M895.68 670.46v-4M914.71 670.46v-4M928.21 670.46v-4M938.68 670.46v-4M947.24 670.46v-4M954.48 670.46v-4M960.75 670.46v-4M966.27 670.46v-4" stroke="#0d0d0d" stroke-width="1.3" fill="none"/>
<g fill="#3f8fc6" opacity="0.22"><rect x="699.11" y="68.46" width="6.89" height="0.4"/><rect x="706" y="60.06" width="6.89" height="8.8"/><rect x="712.89" y="41.16" width="6.89" height="27.7"/><rect x="719.78" y="21.06" width="6.89" height="47.8"/><rect x="726.67" y="11.06" width="6.89" height="57.8"/><rect x="733.56" y="12.46" width="6.89" height="56.4"/><rect x="740.44" y="21.06" width="6.89" height="47.8"/><rect x="747.33" y="31.36" width="6.89" height="37.5"/><rect x="754.22" y="41.06" width="6.89" height="27.8"/><rect x="761.11" y="48.46" width="6.89" height="20.4"/><rect x="768" y="53.76" width="6.89" height="15.1"/><rect x="774.89" y="56.26" width="6.89" height="12.6"/><rect x="781.78" y="58.46" width="6.89" height="10.4"/><rect x="788.67" y="60.46" width="6.89" height="8.4"/><rect x="795.55" y="62.26" width="6.89" height="6.6"/><rect x="802.44" y="63.86" width="6.89" height="5"/><rect x="809.33" y="65.76" width="6.89" height="3.1"/><rect x="816.22" y="67.16" width="6.89" height="1.7"/><rect x="823.11" y="68.26" width="6.89" height="0.6"/></g>
<g fill="#3f8fc6"><rect x="699.98" y="68.46" width="5.15" height="0.4"/><rect x="706.87" y="60.06" width="5.15" height="8.8"/><rect x="713.76" y="41.16" width="5.15" height="27.7"/><rect x="720.65" y="21.06" width="5.15" height="47.8"/><rect x="727.54" y="11.06" width="5.15" height="57.8"/><rect x="734.42" y="12.46" width="5.15" height="56.4"/><rect x="741.31" y="21.06" width="5.15" height="47.8"/><rect x="748.2" y="31.36" width="5.15" height="37.5"/><rect x="755.09" y="41.06" width="5.15" height="27.8"/><rect x="761.98" y="48.46" width="5.15" height="20.4"/><rect x="768.87" y="53.76" width="5.15" height="15.1"/><rect x="775.76" y="56.26" width="5.15" height="12.6"/><rect x="782.65" y="58.46" width="5.15" height="10.4"/><rect x="789.54" y="60.46" width="5.15" height="8.4"/><rect x="796.42" y="62.26" width="5.15" height="6.6"/><rect x="803.31" y="63.86" width="5.15" height="5"/><rect x="810.2" y="65.76" width="5.15" height="3.1"/><rect x="817.09" y="67.16" width="5.15" height="1.7"/><rect x="823.98" y="68.26" width="5.15" height="0.6"/></g>
<g fill="#4292c8" opacity="0.22"><rect x="671.56" y="122.12" width="6.89" height="6.9"/><rect x="678.44" y="103.92" width="6.89" height="25.1"/><rect x="685.33" y="91.72" width="6.89" height="37.3"/><rect x="692.22" y="94.62" width="6.89" height="34.4"/><rect x="699.11" y="103.02" width="6.89" height="26"/><rect x="706" y="108.82" width="6.89" height="20.2"/><rect x="712.89" y="109.22" width="6.89" height="19.8"/><rect x="719.78" y="106.32" width="6.89" height="22.7"/><rect x="726.67" y="103.22" width="6.89" height="25.8"/><rect x="733.56" y="101.42" width="6.89" height="27.6"/><rect x="740.44" y="101.72" width="6.89" height="27.3"/><rect x="747.33" y="104.32" width="6.89" height="24.7"/><rect x="754.22" y="107.02" width="6.89" height="22"/><rect x="761.11" y="110.82" width="6.89" height="18.2"/><rect x="768" y="113.92" width="6.89" height="15.1"/><rect x="774.89" y="115.72" width="6.89" height="13.3"/><rect x="781.78" y="117.72" width="6.89" height="11.3"/><rect x="788.67" y="120.22" width="6.89" height="8.8"/><rect x="795.55" y="123.22" width="6.89" height="5.8"/><rect x="802.44" y="125.92" width="6.89" height="3.1"/><rect x="809.33" y="128.12" width="6.89" height="0.9"/></g>
<g fill="#4292c8"><rect x="672.43" y="122.12" width="5.15" height="6.9"/><rect x="679.31" y="103.92" width="5.15" height="25.1"/><rect x="686.2" y="91.72" width="5.15" height="37.3"/><rect x="693.09" y="94.62" width="5.15" height="34.4"/><rect x="699.98" y="103.02" width="5.15" height="26"/><rect x="706.87" y="108.82" width="5.15" height="20.2"/><rect x="713.76" y="109.22" width="5.15" height="19.8"/><rect x="720.65" y="106.32" width="5.15" height="22.7"/><rect x="727.54" y="103.22" width="5.15" height="25.8"/><rect x="734.42" y="101.42" width="5.15" height="27.6"/><rect x="741.31" y="101.72" width="5.15" height="27.3"/><rect x="748.2" y="104.32" width="5.15" height="24.7"/><rect x="755.09" y="107.02" width="5.15" height="22"/><rect x="761.98" y="110.82" width="5.15" height="18.2"/><rect x="768.87" y="113.92" width="5.15" height="15.1"/><rect x="775.76" y="115.72" width="5.15" height="13.3"/><rect x="782.65" y="117.72" width="5.15" height="11.3"/><rect x="789.54" y="120.22" width="5.15" height="8.8"/><rect x="796.42" y="123.22" width="5.15" height="5.8"/><rect x="803.31" y="125.92" width="5.15" height="3.1"/><rect x="810.2" y="128.12" width="5.15" height="0.9"/></g>
<g fill="#4b98cb" opacity="0.22"><rect x="733.56" y="185.88" width="6.89" height="3.3"/><rect x="740.44" y="174.58" width="6.89" height="14.6"/><rect x="747.33" y="159.28" width="6.89" height="29.9"/><rect x="754.22" y="148.98" width="6.89" height="40.2"/><rect x="761.11" y="145.18" width="6.89" height="44"/><rect x="768" y="144.98" width="6.89" height="44.2"/><rect x="774.89" y="145.68" width="6.89" height="43.5"/><rect x="781.78" y="147.18" width="6.89" height="42"/><rect x="788.67" y="149.48" width="6.89" height="39.7"/><rect x="795.55" y="155.28" width="6.89" height="33.9"/><rect x="802.44" y="162.38" width="6.89" height="26.8"/><rect x="809.33" y="170.38" width="6.89" height="18.8"/><rect x="816.22" y="178.58" width="6.89" height="10.6"/><rect x="823.11" y="185.08" width="6.89" height="4.1"/><rect x="830" y="188.68" width="6.89" height="0.5"/></g>
<g fill="#4b98cb"><rect x="734.42" y="185.88" width="5.15" height="3.3"/><rect x="741.31" y="174.58" width="5.15" height="14.6"/><rect x="748.2" y="159.28" width="5.15" height="29.9"/><rect x="755.09" y="148.98" width="5.15" height="40.2"/><rect x="761.98" y="145.18" width="5.15" height="44"/><rect x="768.87" y="144.98" width="5.15" height="44.2"/><rect x="775.76" y="145.68" width="5.15" height="43.5"/><rect x="782.65" y="147.18" width="5.15" height="42"/><rect x="789.54" y="149.48" width="5.15" height="39.7"/><rect x="796.42" y="155.28" width="5.15" height="33.9"/><rect x="803.31" y="162.38" width="5.15" height="26.8"/><rect x="810.2" y="170.38" width="5.15" height="18.8"/><rect x="817.09" y="178.58" width="5.15" height="10.6"/><rect x="823.98" y="185.08" width="5.15" height="4.1"/><rect x="830.87" y="188.68" width="5.15" height="0.5"/></g>
<g fill="#2070b5" opacity="0.22"><rect x="712.89" y="248.34" width="6.89" height="1"/><rect x="719.78" y="241.84" width="6.89" height="7.5"/><rect x="726.67" y="228.54" width="6.89" height="20.8"/><rect x="733.56" y="214.74" width="6.89" height="34.6"/><rect x="740.44" y="206.74" width="6.89" height="42.6"/><rect x="747.33" y="204.64" width="6.89" height="44.7"/><rect x="754.22" y="207.54" width="6.89" height="41.8"/><rect x="761.11" y="212.44" width="6.89" height="36.9"/><rect x="768" y="217.14" width="6.89" height="32.2"/><rect x="774.89" y="220.94" width="6.89" height="28.4"/><rect x="781.78" y="223.54" width="6.89" height="25.8"/><rect x="788.67" y="226.24" width="6.89" height="23.1"/><rect x="795.55" y="229.84" width="6.89" height="19.5"/><rect x="802.44" y="234.24" width="6.89" height="15.1"/><rect x="809.33" y="238.74" width="6.89" height="10.6"/><rect x="816.22" y="243.34" width="6.89" height="6"/><rect x="823.11" y="247.24" width="6.89" height="2.1"/><rect x="830" y="248.84" width="6.89" height="0.5"/></g>
<g fill="#2070b5"><rect x="713.76" y="248.34" width="5.15" height="1"/><rect x="720.65" y="241.84" width="5.15" height="7.5"/><rect x="727.54" y="228.54" width="5.15" height="20.8"/><rect x="734.42" y="214.74" width="5.15" height="34.6"/><rect x="741.31" y="206.74" width="5.15" height="42.6"/><rect x="748.2" y="204.64" width="5.15" height="44.7"/><rect x="755.09" y="207.54" width="5.15" height="41.8"/><rect x="761.98" y="212.44" width="5.15" height="36.9"/><rect x="768.87" y="217.14" width="5.15" height="32.2"/><rect x="775.76" y="220.94" width="5.15" height="28.4"/><rect x="782.65" y="223.54" width="5.15" height="25.8"/><rect x="789.54" y="226.24" width="5.15" height="23.1"/><rect x="796.42" y="229.84" width="5.15" height="19.5"/><rect x="803.31" y="234.24" width="5.15" height="15.1"/><rect x="810.2" y="238.74" width="5.15" height="10.6"/><rect x="817.09" y="243.34" width="5.15" height="6"/><rect x="823.98" y="247.24" width="5.15" height="2.1"/><rect x="830.87" y="248.84" width="5.15" height="0.5"/></g>
<g fill="#2272b7" opacity="0.22"><rect x="706" y="308.3" width="6.89" height="1.2"/><rect x="712.89" y="300.7" width="6.89" height="8.8"/><rect x="719.78" y="287.1" width="6.89" height="22.4"/><rect x="726.67" y="273.6" width="6.89" height="35.9"/><rect x="733.56" y="265.3" width="6.89" height="44.2"/><rect x="740.44" y="264.2" width="6.89" height="45.3"/><rect x="747.33" y="267.3" width="6.89" height="42.2"/><rect x="754.22" y="273.1" width="6.89" height="36.4"/><rect x="761.11" y="279.3" width="6.89" height="30.2"/><rect x="768" y="284.5" width="6.89" height="25"/><rect x="774.89" y="287.4" width="6.89" height="22.1"/><rect x="781.78" y="290" width="6.89" height="19.5"/><rect x="788.67" y="292.3" width="6.89" height="17.2"/><rect x="795.55" y="295.2" width="6.89" height="14.3"/><rect x="802.44" y="298.1" width="6.89" height="11.4"/><rect x="809.33" y="301.4" width="6.89" height="8.1"/><rect x="816.22" y="304.7" width="6.89" height="4.8"/><rect x="823.11" y="307.2" width="6.89" height="2.3"/></g>
<g fill="#2272b7"><rect x="706.87" y="308.3" width="5.15" height="1.2"/><rect x="713.76" y="300.7" width="5.15" height="8.8"/><rect x="720.65" y="287.1" width="5.15" height="22.4"/><rect x="727.54" y="273.6" width="5.15" height="35.9"/><rect x="734.42" y="265.3" width="5.15" height="44.2"/><rect x="741.31" y="264.2" width="5.15" height="45.3"/><rect x="748.2" y="267.3" width="5.15" height="42.2"/><rect x="755.09" y="273.1" width="5.15" height="36.4"/><rect x="761.98" y="279.3" width="5.15" height="30.2"/><rect x="768.87" y="284.5" width="5.15" height="25"/><rect x="775.76" y="287.4" width="5.15" height="22.1"/><rect x="782.65" y="290" width="5.15" height="19.5"/><rect x="789.54" y="292.3" width="5.15" height="17.2"/><rect x="796.42" y="295.2" width="5.15" height="14.3"/><rect x="803.31" y="298.1" width="5.15" height="11.4"/><rect x="810.2" y="301.4" width="5.15" height="8.1"/><rect x="817.09" y="304.7" width="5.15" height="4.8"/><rect x="823.98" y="307.2" width="5.15" height="2.3"/></g>
<g fill="#2373b8" opacity="0.22"><rect x="706" y="365.96" width="6.89" height="3.7"/><rect x="712.89" y="353.56" width="6.89" height="16.1"/><rect x="719.78" y="337.96" width="6.89" height="31.7"/><rect x="726.67" y="326.56" width="6.89" height="43.1"/><rect x="733.56" y="321.86" width="6.89" height="47.8"/><rect x="740.44" y="323.46" width="6.89" height="46.2"/><rect x="747.33" y="329.26" width="6.89" height="40.4"/><rect x="754.22" y="335.76" width="6.89" height="33.9"/><rect x="761.11" y="342.36" width="6.89" height="27.3"/><rect x="768" y="347.76" width="6.89" height="21.9"/><rect x="774.89" y="351.46" width="6.89" height="18.2"/><rect x="781.78" y="353.46" width="6.89" height="16.2"/><rect x="788.67" y="355.56" width="6.89" height="14.1"/><rect x="795.55" y="357.76" width="6.89" height="11.9"/><rect x="802.44" y="360.66" width="6.89" height="9"/><rect x="809.33" y="363.56" width="6.89" height="6.1"/><rect x="816.22" y="365.96" width="6.89" height="3.7"/><rect x="823.11" y="367.76" width="6.89" height="1.9"/></g>
<g fill="#2373b8"><rect x="706.87" y="365.96" width="5.15" height="3.7"/><rect x="713.76" y="353.56" width="5.15" height="16.1"/><rect x="720.65" y="337.96" width="5.15" height="31.7"/><rect x="727.54" y="326.56" width="5.15" height="43.1"/><rect x="734.42" y="321.86" width="5.15" height="47.8"/><rect x="741.31" y="323.46" width="5.15" height="46.2"/><rect x="748.2" y="329.26" width="5.15" height="40.4"/><rect x="755.09" y="335.76" width="5.15" height="33.9"/><rect x="761.98" y="342.36" width="5.15" height="27.3"/><rect x="768.87" y="347.76" width="5.15" height="21.9"/><rect x="775.76" y="351.46" width="5.15" height="18.2"/><rect x="782.65" y="353.46" width="5.15" height="16.2"/><rect x="789.54" y="355.56" width="5.15" height="14.1"/><rect x="796.42" y="357.76" width="5.15" height="11.9"/><rect x="803.31" y="360.66" width="5.15" height="9"/><rect x="810.2" y="363.56" width="5.15" height="6.1"/><rect x="817.09" y="365.96" width="5.15" height="3.7"/><rect x="823.98" y="367.76" width="5.15" height="1.9"/></g>
<g fill="#0b56a4" opacity="0.22"><rect x="712.89" y="425.52" width="6.89" height="4.3"/><rect x="719.78" y="421.32" width="6.89" height="8.5"/><rect x="726.67" y="418.22" width="6.89" height="11.6"/><rect x="733.56" y="416.62" width="6.89" height="13.2"/><rect x="740.44" y="417.42" width="6.89" height="12.4"/><rect x="747.33" y="418.92" width="6.89" height="10.9"/><rect x="754.22" y="420.82" width="6.89" height="9"/><rect x="761.11" y="422.12" width="6.89" height="7.7"/><rect x="768" y="423.12" width="6.89" height="6.7"/><rect x="774.89" y="423.42" width="6.89" height="6.4"/><rect x="781.78" y="423.42" width="6.89" height="6.4"/><rect x="788.67" y="422.62" width="6.89" height="7.2"/><rect x="795.55" y="421.62" width="6.89" height="8.2"/><rect x="802.44" y="420.32" width="6.89" height="9.5"/><rect x="809.33" y="417.62" width="6.89" height="12.2"/><rect x="816.22" y="415.02" width="6.89" height="14.8"/><rect x="823.11" y="412.12" width="6.89" height="17.7"/><rect x="830" y="409.02" width="6.89" height="20.8"/><rect x="836.89" y="405.32" width="6.89" height="24.5"/><rect x="843.78" y="401.12" width="6.89" height="28.7"/><rect x="850.67" y="399.02" width="6.89" height="30.8"/><rect x="857.55" y="400.62" width="6.89" height="29.2"/><rect x="864.44" y="405.02" width="6.89" height="24.8"/><rect x="871.33" y="410.52" width="6.89" height="19.3"/><rect x="878.22" y="416.62" width="6.89" height="13.2"/><rect x="885.11" y="422.12" width="6.89" height="7.7"/><rect x="892" y="426.82" width="6.89" height="3"/><rect x="898.89" y="429.22" width="6.89" height="0.6"/><rect x="912.66" y="428.62" width="6.89" height="1.2"/><rect x="919.55" y="427.12" width="6.89" height="2.7"/><rect x="926.44" y="425.52" width="6.89" height="4.3"/><rect x="933.33" y="424.22" width="6.89" height="5.6"/><rect x="940.22" y="425.52" width="6.89" height="4.3"/><rect x="947.11" y="428.62" width="6.89" height="1.2"/></g>
<g fill="#0b56a4"><rect x="713.76" y="425.52" width="5.15" height="4.3"/><rect x="720.65" y="421.32" width="5.15" height="8.5"/><rect x="727.54" y="418.22" width="5.15" height="11.6"/><rect x="734.42" y="416.62" width="5.15" height="13.2"/><rect x="741.31" y="417.42" width="5.15" height="12.4"/><rect x="748.2" y="418.92" width="5.15" height="10.9"/><rect x="755.09" y="420.82" width="5.15" height="9"/><rect x="761.98" y="422.12" width="5.15" height="7.7"/><rect x="768.87" y="423.12" width="5.15" height="6.7"/><rect x="775.76" y="423.42" width="5.15" height="6.4"/><rect x="782.65" y="423.42" width="5.15" height="6.4"/><rect x="789.54" y="422.62" width="5.15" height="7.2"/><rect x="796.42" y="421.62" width="5.15" height="8.2"/><rect x="803.31" y="420.32" width="5.15" height="9.5"/><rect x="810.2" y="417.62" width="5.15" height="12.2"/><rect x="817.09" y="415.02" width="5.15" height="14.8"/><rect x="823.98" y="412.12" width="5.15" height="17.7"/><rect x="830.87" y="409.02" width="5.15" height="20.8"/><rect x="837.76" y="405.32" width="5.15" height="24.5"/><rect x="844.65" y="401.12" width="5.15" height="28.7"/><rect x="851.53" y="399.02" width="5.15" height="30.8"/><rect x="858.42" y="400.62" width="5.15" height="29.2"/><rect x="865.31" y="405.02" width="5.15" height="24.8"/><rect x="872.2" y="410.52" width="5.15" height="19.3"/><rect x="879.09" y="416.62" width="5.15" height="13.2"/><rect x="885.98" y="422.12" width="5.15" height="7.7"/><rect x="892.87" y="426.82" width="5.15" height="3"/><rect x="899.76" y="429.22" width="5.15" height="0.6"/><rect x="913.53" y="428.62" width="5.15" height="1.2"/><rect x="920.42" y="427.12" width="5.15" height="2.7"/><rect x="927.31" y="425.52" width="5.15" height="4.3"/><rect x="934.2" y="424.22" width="5.15" height="5.6"/><rect x="941.09" y="425.52" width="5.15" height="4.3"/><rect x="947.98" y="428.62" width="5.15" height="1.2"/></g>
<g fill="#0a52a0" opacity="0.22"><rect x="712.89" y="487.78" width="6.89" height="2.2"/><rect x="719.78" y="481.48" width="6.89" height="8.5"/><rect x="726.67" y="475.38" width="6.89" height="14.6"/><rect x="733.56" y="472.78" width="6.89" height="17.2"/><rect x="740.44" y="472.78" width="6.89" height="17.2"/><rect x="747.33" y="474.88" width="6.89" height="15.1"/><rect x="754.22" y="477.48" width="6.89" height="12.5"/><rect x="761.11" y="479.88" width="6.89" height="10.1"/><rect x="768" y="481.48" width="6.89" height="8.5"/><rect x="774.89" y="481.68" width="6.89" height="8.3"/><rect x="781.78" y="480.88" width="6.89" height="9.1"/><rect x="788.67" y="479.88" width="6.89" height="10.1"/><rect x="795.55" y="478.28" width="6.89" height="11.7"/><rect x="802.44" y="475.68" width="6.89" height="14.3"/><rect x="809.33" y="473.08" width="6.89" height="16.9"/><rect x="816.22" y="469.88" width="6.89" height="20.1"/><rect x="823.11" y="466.98" width="6.89" height="23"/><rect x="830" y="464.88" width="6.89" height="25.1"/><rect x="836.89" y="463.08" width="6.89" height="26.9"/><rect x="843.78" y="462.78" width="6.89" height="27.2"/><rect x="850.67" y="465.48" width="6.89" height="24.5"/><rect x="857.55" y="470.98" width="6.89" height="19"/><rect x="864.44" y="478.08" width="6.89" height="11.9"/><rect x="871.33" y="484.58" width="6.89" height="5.4"/><rect x="878.22" y="488.58" width="6.89" height="1.4"/><rect x="912.66" y="488.58" width="6.89" height="1.4"/><rect x="919.55" y="486.68" width="6.89" height="3.3"/><rect x="926.44" y="484.08" width="6.89" height="5.9"/><rect x="933.33" y="481.68" width="6.89" height="8.3"/><rect x="940.22" y="482.78" width="6.89" height="7.2"/><rect x="947.11" y="488.28" width="6.89" height="1.7"/></g>
<g fill="#0a52a0"><rect x="713.76" y="487.78" width="5.15" height="2.2"/><rect x="720.65" y="481.48" width="5.15" height="8.5"/><rect x="727.54" y="475.38" width="5.15" height="14.6"/><rect x="734.42" y="472.78" width="5.15" height="17.2"/><rect x="741.31" y="472.78" width="5.15" height="17.2"/><rect x="748.2" y="474.88" width="5.15" height="15.1"/><rect x="755.09" y="477.48" width="5.15" height="12.5"/><rect x="761.98" y="479.88" width="5.15" height="10.1"/><rect x="768.87" y="481.48" width="5.15" height="8.5"/><rect x="775.76" y="481.68" width="5.15" height="8.3"/><rect x="782.65" y="480.88" width="5.15" height="9.1"/><rect x="789.54" y="479.88" width="5.15" height="10.1"/><rect x="796.42" y="478.28" width="5.15" height="11.7"/><rect x="803.31" y="475.68" width="5.15" height="14.3"/><rect x="810.2" y="473.08" width="5.15" height="16.9"/><rect x="817.09" y="469.88" width="5.15" height="20.1"/><rect x="823.98" y="466.98" width="5.15" height="23"/><rect x="830.87" y="464.88" width="5.15" height="25.1"/><rect x="837.76" y="463.08" width="5.15" height="26.9"/><rect x="844.65" y="462.78" width="5.15" height="27.2"/><rect x="851.53" y="465.48" width="5.15" height="24.5"/><rect x="858.42" y="470.98" width="5.15" height="19"/><rect x="865.31" y="478.08" width="5.15" height="11.9"/><rect x="872.2" y="484.58" width="5.15" height="5.4"/><rect x="879.09" y="488.58" width="5.15" height="1.4"/><rect x="913.53" y="488.58" width="5.15" height="1.4"/><rect x="920.42" y="486.68" width="5.15" height="3.3"/><rect x="927.31" y="484.08" width="5.15" height="5.9"/><rect x="934.2" y="481.68" width="5.15" height="8.3"/><rect x="941.09" y="482.78" width="5.15" height="7.2"/><rect x="947.98" y="488.28" width="5.15" height="1.7"/></g>
<g fill="#0b58a6" opacity="0.22"><rect x="712.89" y="545.84" width="6.89" height="4.3"/><rect x="719.78" y="540.34" width="6.89" height="9.8"/><rect x="726.67" y="535.14" width="6.89" height="15"/><rect x="733.56" y="533.34" width="6.89" height="16.8"/><rect x="740.44" y="533.54" width="6.89" height="16.6"/><rect x="747.33" y="535.44" width="6.89" height="14.7"/><rect x="754.22" y="537.74" width="6.89" height="12.4"/><rect x="761.11" y="539.64" width="6.89" height="10.5"/><rect x="768" y="541.14" width="6.89" height="9"/><rect x="774.89" y="541.44" width="6.89" height="8.7"/><rect x="781.78" y="541.14" width="6.89" height="9"/><rect x="788.67" y="540.14" width="6.89" height="10"/><rect x="795.55" y="538.84" width="6.89" height="11.3"/><rect x="802.44" y="537.24" width="6.89" height="12.9"/><rect x="809.33" y="534.84" width="6.89" height="15.3"/><rect x="816.22" y="532.74" width="6.89" height="17.4"/><rect x="823.11" y="531.24" width="6.89" height="18.9"/><rect x="830" y="530.64" width="6.89" height="19.5"/><rect x="836.89" y="530.64" width="6.89" height="19.5"/><rect x="843.78" y="531.94" width="6.89" height="18.2"/><rect x="850.67" y="535.44" width="6.89" height="14.7"/><rect x="857.55" y="540.64" width="6.89" height="9.5"/><rect x="864.44" y="545.34" width="6.89" height="4.8"/><rect x="871.33" y="549.04" width="6.89" height="1.1"/><rect x="919.55" y="548.54" width="6.89" height="1.6"/><rect x="926.44" y="546.44" width="6.89" height="3.7"/><rect x="933.33" y="544.04" width="6.89" height="6.1"/><rect x="940.22" y="544.54" width="6.89" height="5.6"/><rect x="947.11" y="548.74" width="6.89" height="1.4"/></g>
<g fill="#0b58a6"><rect x="713.76" y="545.84" width="5.15" height="4.3"/><rect x="720.65" y="540.34" width="5.15" height="9.8"/><rect x="727.54" y="535.14" width="5.15" height="15"/><rect x="734.42" y="533.34" width="5.15" height="16.8"/><rect x="741.31" y="533.54" width="5.15" height="16.6"/><rect x="748.2" y="535.44" width="5.15" height="14.7"/><rect x="755.09" y="537.74" width="5.15" height="12.4"/><rect x="761.98" y="539.64" width="5.15" height="10.5"/><rect x="768.87" y="541.14" width="5.15" height="9"/><rect x="775.76" y="541.44" width="5.15" height="8.7"/><rect x="782.65" y="541.14" width="5.15" height="9"/><rect x="789.54" y="540.14" width="5.15" height="10"/><rect x="796.42" y="538.84" width="5.15" height="11.3"/><rect x="803.31" y="537.24" width="5.15" height="12.9"/><rect x="810.2" y="534.84" width="5.15" height="15.3"/><rect x="817.09" y="532.74" width="5.15" height="17.4"/><rect x="823.98" y="531.24" width="5.15" height="18.9"/><rect x="830.87" y="530.64" width="5.15" height="19.5"/><rect x="837.76" y="530.64" width="5.15" height="19.5"/><rect x="844.65" y="531.94" width="5.15" height="18.2"/><rect x="851.53" y="535.44" width="5.15" height="14.7"/><rect x="858.42" y="540.64" width="5.15" height="9.5"/><rect x="865.31" y="545.34" width="5.15" height="4.8"/><rect x="872.2" y="549.04" width="5.15" height="1.1"/><rect x="920.42" y="548.54" width="5.15" height="1.6"/><rect x="927.31" y="546.44" width="5.15" height="3.7"/><rect x="934.2" y="544.04" width="5.15" height="6.1"/><rect x="941.09" y="544.54" width="5.15" height="5.6"/><rect x="947.98" y="548.74" width="5.15" height="1.4"/></g>
<g fill="#0a3170" opacity="0.22"><rect x="706" y="609.2" width="6.89" height="1.1"/><rect x="712.89" y="605.5" width="6.89" height="4.8"/><rect x="719.78" y="600.5" width="6.89" height="9.8"/><rect x="726.67" y="596.1" width="6.89" height="14.2"/><rect x="733.56" y="594.5" width="6.89" height="15.8"/><rect x="740.44" y="594.8" width="6.89" height="15.5"/><rect x="747.33" y="596.9" width="6.89" height="13.4"/><rect x="754.22" y="598.7" width="6.89" height="11.6"/><rect x="761.11" y="600.5" width="6.89" height="9.8"/><rect x="768" y="601.9" width="6.89" height="8.4"/><rect x="774.89" y="602.1" width="6.89" height="8.2"/><rect x="781.78" y="601.6" width="6.89" height="8.7"/><rect x="788.67" y="600" width="6.89" height="10.3"/><rect x="795.55" y="598.2" width="6.89" height="12.1"/><rect x="802.44" y="595.6" width="6.89" height="14.7"/><rect x="809.33" y="592.9" width="6.89" height="17.4"/><rect x="816.22" y="589.5" width="6.89" height="20.8"/><rect x="823.11" y="586.9" width="6.89" height="23.4"/><rect x="830" y="585.1" width="6.89" height="25.2"/><rect x="836.89" y="583.2" width="6.89" height="27.1"/><rect x="843.78" y="583" width="6.89" height="27.3"/><rect x="850.67" y="585.8" width="6.89" height="24.5"/><rect x="857.55" y="592.4" width="6.89" height="17.9"/><rect x="864.44" y="599.2" width="6.89" height="11.1"/><rect x="871.33" y="605.3" width="6.89" height="5"/><rect x="878.22" y="609.2" width="6.89" height="1.1"/><rect x="912.66" y="609.2" width="6.89" height="1.1"/><rect x="919.55" y="606.8" width="6.89" height="3.5"/><rect x="926.44" y="604.5" width="6.89" height="5.8"/><rect x="933.33" y="602.6" width="6.89" height="7.7"/><rect x="940.22" y="604" width="6.89" height="6.3"/><rect x="947.11" y="608.7" width="6.89" height="1.6"/></g>
<g fill="#0a3170"><rect x="706.87" y="609.2" width="5.15" height="1.1"/><rect x="713.76" y="605.5" width="5.15" height="4.8"/><rect x="720.65" y="600.5" width="5.15" height="9.8"/><rect x="727.54" y="596.1" width="5.15" height="14.2"/><rect x="734.42" y="594.5" width="5.15" height="15.8"/><rect x="741.31" y="594.8" width="5.15" height="15.5"/><rect x="748.2" y="596.9" width="5.15" height="13.4"/><rect x="755.09" y="598.7" width="5.15" height="11.6"/><rect x="761.98" y="600.5" width="5.15" height="9.8"/><rect x="768.87" y="601.9" width="5.15" height="8.4"/><rect x="775.76" y="602.1" width="5.15" height="8.2"/><rect x="782.65" y="601.6" width="5.15" height="8.7"/><rect x="789.54" y="600" width="5.15" height="10.3"/><rect x="796.42" y="598.2" width="5.15" height="12.1"/><rect x="803.31" y="595.6" width="5.15" height="14.7"/><rect x="810.2" y="592.9" width="5.15" height="17.4"/><rect x="817.09" y="589.5" width="5.15" height="20.8"/><rect x="823.98" y="586.9" width="5.15" height="23.4"/><rect x="830.87" y="585.1" width="5.15" height="25.2"/><rect x="837.76" y="583.2" width="5.15" height="27.1"/><rect x="844.65" y="583" width="5.15" height="27.3"/><rect x="851.53" y="585.8" width="5.15" height="24.5"/><rect x="858.42" y="592.4" width="5.15" height="17.9"/><rect x="865.31" y="599.2" width="5.15" height="11.1"/><rect x="872.2" y="605.3" width="5.15" height="5"/><rect x="879.09" y="609.2" width="5.15" height="1.1"/><rect x="913.53" y="609.2" width="5.15" height="1.1"/><rect x="920.42" y="606.8" width="5.15" height="3.5"/><rect x="927.31" y="604.5" width="5.15" height="5.8"/><rect x="934.2" y="602.6" width="5.15" height="7.7"/><rect x="941.09" y="604" width="5.15" height="6.3"/><rect x="947.98" y="608.7" width="5.15" height="1.6"/></g>
<g fill="#0a3270" opacity="0.22"><rect x="719.78" y="669.66" width="6.89" height="0.8"/><rect x="726.67" y="668.36" width="6.89" height="2.1"/><rect x="733.56" y="667.06" width="6.89" height="3.4"/><rect x="740.44" y="666.06" width="6.89" height="4.4"/><rect x="747.33" y="666.06" width="6.89" height="4.4"/><rect x="754.22" y="665.26" width="6.89" height="5.2"/><rect x="761.11" y="664.96" width="6.89" height="5.5"/><rect x="768" y="664.76" width="6.89" height="5.7"/><rect x="774.89" y="663.36" width="6.89" height="7.1"/><rect x="781.78" y="661.26" width="6.89" height="9.2"/><rect x="788.67" y="658.66" width="6.89" height="11.8"/><rect x="795.55" y="656.06" width="6.89" height="14.4"/><rect x="802.44" y="652.66" width="6.89" height="17.8"/><rect x="809.33" y="648.96" width="6.89" height="21.5"/><rect x="816.22" y="645.86" width="6.89" height="24.6"/><rect x="823.11" y="643.16" width="6.89" height="27.3"/><rect x="830" y="641.06" width="6.89" height="29.4"/><rect x="836.89" y="639.56" width="6.89" height="30.9"/><rect x="843.78" y="638.96" width="6.89" height="31.5"/><rect x="850.67" y="641.66" width="6.89" height="28.8"/><rect x="857.55" y="647.36" width="6.89" height="23.1"/><rect x="864.44" y="654.76" width="6.89" height="15.7"/><rect x="871.33" y="661.56" width="6.89" height="8.9"/><rect x="878.22" y="666.56" width="6.89" height="3.9"/><rect x="885.11" y="669.66" width="6.89" height="0.8"/><rect x="898.89" y="669.66" width="6.89" height="0.8"/><rect x="905.78" y="667.06" width="6.89" height="3.4"/><rect x="912.66" y="664.46" width="6.89" height="6"/><rect x="919.55" y="662.66" width="6.89" height="7.8"/><rect x="926.44" y="662.36" width="6.89" height="8.1"/><rect x="933.33" y="662.06" width="6.89" height="8.4"/><rect x="940.22" y="664.46" width="6.89" height="6"/><rect x="947.11" y="668.36" width="6.89" height="2.1"/></g>
<g fill="#0a3270"><rect x="720.65" y="669.66" width="5.15" height="0.8"/><rect x="727.54" y="668.36" width="5.15" height="2.1"/><rect x="734.42" y="667.06" width="5.15" height="3.4"/><rect x="741.31" y="666.06" width="5.15" height="4.4"/><rect x="748.2" y="666.06" width="5.15" height="4.4"/><rect x="755.09" y="665.26" width="5.15" height="5.2"/><rect x="761.98" y="664.96" width="5.15" height="5.5"/><rect x="768.87" y="664.76" width="5.15" height="5.7"/><rect x="775.76" y="663.36" width="5.15" height="7.1"/><rect x="782.65" y="661.26" width="5.15" height="9.2"/><rect x="789.54" y="658.66" width="5.15" height="11.8"/><rect x="796.42" y="656.06" width="5.15" height="14.4"/><rect x="803.31" y="652.66" width="5.15" height="17.8"/><rect x="810.2" y="648.96" width="5.15" height="21.5"/><rect x="817.09" y="645.86" width="5.15" height="24.6"/><rect x="823.98" y="643.16" width="5.15" height="27.3"/><rect x="830.87" y="641.06" width="5.15" height="29.4"/><rect x="837.76" y="639.56" width="5.15" height="30.9"/><rect x="844.65" y="638.96" width="5.15" height="31.5"/><rect x="851.53" y="641.66" width="5.15" height="28.8"/><rect x="858.42" y="647.36" width="5.15" height="23.1"/><rect x="865.31" y="654.76" width="5.15" height="15.7"/><rect x="872.2" y="661.56" width="5.15" height="8.9"/><rect x="879.09" y="666.56" width="5.15" height="3.9"/><rect x="885.98" y="669.66" width="5.15" height="0.8"/><rect x="899.76" y="669.66" width="5.15" height="0.8"/><rect x="906.65" y="667.06" width="5.15" height="3.4"/><rect x="913.53" y="664.46" width="5.15" height="6"/><rect x="920.42" y="662.66" width="5.15" height="7.8"/><rect x="927.31" y="662.36" width="5.15" height="8.1"/><rect x="934.2" y="662.06" width="5.15" height="8.4"/><rect x="941.09" y="664.46" width="5.15" height="6"/><rect x="947.98" y="668.36" width="5.15" height="2.1"/></g>
<path d="M538.9 8.7H971.22V670.46H538.9ZM538.9 68.86H971.22M538.9 129.02H971.22M538.9 189.18H971.22M538.9 249.34H971.22M538.9 309.5H971.22M538.9 369.66H971.22M538.9 429.82H971.22M538.9 489.98H971.22M538.9 550.14H971.22M538.9 610.3H971.22" stroke="#0d0d0d" stroke-width="1.7" fill="none"/>
<path d="M537.9 6.5H972.22" stroke="#e2e2e2" stroke-width="1"/>
<text x="549.2" y="32.35" font-size="21.3" letter-spacing="0.42">300min</text>
<text x="549.2" y="92.51" font-size="21.3" letter-spacing="0.42">270min</text>
<text x="549.2" y="152.67" font-size="21.3" letter-spacing="0.42">240min</text>
<text x="549.2" y="212.83" font-size="21.3" letter-spacing="0.42">210min</text>
<text x="549.2" y="272.99" font-size="21.3" letter-spacing="0.42">180min</text>
<text x="549.2" y="333.15" font-size="21.3" letter-spacing="0.42">150min</text>
<text x="549.2" y="393.31" font-size="21.3" letter-spacing="0.42">120min</text>
<text x="549.2" y="453.47" font-size="21.3" letter-spacing="0.42">90min</text>
<text x="549.2" y="513.63" font-size="21.3" letter-spacing="0.42">60min</text>
<text x="549.2" y="573.79" font-size="21.3" letter-spacing="0.42">30min</text>
<text x="549.2" y="633.95" font-size="21.3" letter-spacing="0.42">0min</text>
<text x="950.02" y="31.6" font-size="20.5" font-weight="bold">B</text>
<text x="521.75" y="702.3" font-size="23.3">10<tspan font-size="16.5" dy="-10.4">0</tspan></text>
<text x="629.83" y="702.3" font-size="23.3">10<tspan font-size="16.5" dy="-10.4">1</tspan></text>
<text x="737.91" y="702.3" font-size="23.3">10<tspan font-size="16.5" dy="-10.4">2</tspan></text>
<text x="845.99" y="702.3" font-size="23.3">10<tspan font-size="16.5" dy="-10.4">3</tspan></text>
<text x="954.07" y="702.3" font-size="23.3">10<tspan font-size="16.5" dy="-10.4">4</tspan></text>
<text x="755.06" y="738.8" font-size="24" text-anchor="middle">Size (nm)</text>
<text transform="translate(519.4 322.8) rotate(-90)" font-size="24" letter-spacing="0.31" text-anchor="middle">Volume (%)</text>
</g>
<g>
<rect x="37.3" y="756.4" width="931.8" height="241.2" fill="url(#bgv)"/>
<rect x="37.3" y="756.4" width="931.8" height="241.2" fill="url(#bgh)"/>
<path d="M111.7 891.2C109.3 893.6 106.6 894.2 103.2 893.8C99.8 893.4 95.2 892.1 92.8 889.1C90.5 886.2 90.3 880.8 90.2 877.2C90.1 873.5 90 871.2 92.5 868.8C94.9 866.4 100.2 863.9 103.8 863.8C107.3 863.6 109.9 864.9 112.2 867.9C114.5 871 116.5 876.4 116.4 880.6C116.3 884.8 114.1 888.9 111.7 891.2Z" fill="url(#rgl)" stroke="#eeb098" stroke-width="0.9"/>
<path d="M175.3 828.1C178.4 831.2 181.2 832.4 181 837C180.8 841.7 177.6 849.8 174.2 853.7C170.8 857.6 167 858.9 162.1 858.8C157.2 858.7 150.7 856.3 147.1 853.3C143.5 850.2 142.2 846.7 142.1 841.9C142 837.1 142.9 830.8 146.7 826.8C150.6 822.8 158.4 819.6 163.5 819.8C168.7 820.1 172.1 825 175.3 828.1Z" fill="url(#rg)" stroke="#f4ab94" stroke-width="0.9"/>
<path d="M127.4 861.5C123 861.9 118.2 860.3 115.3 858.3C112.4 856.2 111.3 853.7 111.3 850C111.3 846.3 113 840.8 115.3 837.6C117.6 834.5 120 832.8 123.9 832.5C127.9 832.3 133.9 833.7 137.4 836.2C140.8 838.6 142.5 842.7 142.9 846.3C143.4 849.9 142.7 853.2 139.9 856C137.1 858.7 131.9 861.1 127.4 861.5Z" fill="url(#rg)" stroke="#f4ab94" stroke-width="0.9"/>
<path d="M161.6 908.4C157.8 907.1 153.5 904.7 150.8 900.9C148.1 897.1 145.5 891.8 146.5 887.2C147.5 882.6 152.7 877.7 156.5 875.4C160.3 873.1 163.7 873.1 167.6 874.4C171.5 875.7 175.9 878.8 178.3 882.4C180.7 886 182.1 889.6 180.9 894.2C179.7 898.8 175.2 905.4 171.7 908C168.2 910.5 165.3 909.7 161.6 908.4Z" fill="url(#rg)" stroke="#f4ab94" stroke-width="0.9"/>
<path d="M116.7 883C119.4 879.4 125.4 876.5 130.1 876.2C134.7 875.9 138.8 878.8 142.4 881.2C146 883.7 149.2 885.7 149.9 889.8C150.7 893.8 148.9 900.2 146.4 903.8C143.9 907.3 140.6 908.8 136.2 909.6C131.8 910.4 125.8 910.6 121.9 908.2C118 905.8 115.5 900.9 114.6 896.4C113.6 891.9 113.9 886.6 116.7 883Z" fill="url(#rg)" stroke="#f4ab94" stroke-width="0.9"/>
<path d="M131 855.2C134.3 856.2 136 858.5 137.6 862.2C139.2 865.8 140.9 871.4 139.9 875.5C139 879.6 135.7 883.2 132.3 885C128.9 886.8 124.9 886.8 121.3 885.5C117.7 884.2 114.1 881.1 112.3 877.6C110.6 874.2 110.4 870.3 111.7 866.5C113 862.7 116.1 858.5 119.6 856.5C123.1 854.5 127.8 854.2 131 855.2Z" fill="url(#rg)" stroke="#f4ab94" stroke-width="0.9"/>
<path d="M141.4 882.5C137.9 880.9 134.6 877.6 133.3 873.5C132 869.3 132.4 863.6 134.1 859.5C135.8 855.5 139.1 852.4 142.5 850.9C146 849.5 149.9 850.1 153.1 851.6C156.4 853.1 159.4 855.1 160.5 859.3C161.6 863.5 160.6 870.6 159.2 874.8C157.9 878.9 156 881 152.8 882.4C149.6 883.8 144.9 884.1 141.4 882.5Z" fill="url(#rg)" stroke="#f4ab94" stroke-width="0.9"/>
<path d="M173.5 882.8C169 883.4 165.5 881.5 162 879.5C158.5 877.5 154.9 875.2 154.1 871.7C153.2 868.3 154.4 863.4 157.3 860.2C160.2 856.9 165.5 854.2 170.2 853.6C174.9 853 179.8 854.2 183.5 856.7C187.1 859.2 189.6 864 190.3 867.5C191 871 190.5 873.3 187.5 876.1C184.4 878.9 178.1 882.2 173.5 882.8Z" fill="url(#rg)" stroke="#f4ab94" stroke-width="0.9"/>
<path d="M282 857.7C281.3 854.7 282.5 850.9 284 848.2C285.4 845.5 287.5 843.6 290 842.8C292.5 842.1 295.4 842.4 297.9 844.2C300.4 845.9 302.7 849.6 303.7 852.5C304.6 855.5 304.6 858.3 303.2 860.8C301.8 863.3 298.5 865.7 295.7 866.5C292.9 867.2 290.2 866.5 287.7 865C285.2 863.4 282.6 860.8 282 857.7Z" fill="url(#rgl)" stroke="#eeb098" stroke-width="0.9"/>
<path d="M402.1 891.1C402.9 889.1 404.3 887 406.7 886.3C409 885.5 413 886 415.2 886.9C417.4 887.8 418.3 889.1 418.9 891.2C419.5 893.3 419.8 896.1 418.7 898.5C417.6 900.9 414.7 903.5 412.7 904.5C410.6 905.5 409.3 905.3 407.4 904.1C405.4 902.8 402.8 900.1 401.9 897.8C400.9 895.5 401.2 893.2 402.1 891.1Z" fill="url(#rgl)" stroke="#eeb098" stroke-width="0.9"/>
<path d="M290.8 834.7C287.9 830.7 288 825.6 289.6 821.1C291.1 816.6 294.9 812.5 299.2 809.9C303.5 807.3 308.7 805.5 313.4 806.6C318 807.7 322.6 812.4 325 816.1C327.4 819.8 328 822.6 326.7 827C325.3 831.4 321.1 837.6 317.4 840.6C313.6 843.5 310.6 844.5 305.8 843.4C301 842.4 293.7 838.7 290.8 834.7Z" fill="url(#rg)" stroke="#f4ab94" stroke-width="0.9"/>
<path d="M322.1 842C321.6 839.4 322.8 837 324.8 834.6C326.7 832.3 329.5 829.5 333 828.8C336.5 828.1 341.4 829.1 344.3 830.9C347.1 832.7 348.5 835.8 348.7 838.8C349 841.9 347.5 845.3 345.5 847.7C343.5 850.1 341 851.8 337.7 852.1C334.4 852.3 330 851 327.2 849.2C324.3 847.4 322.5 844.6 322.1 842Z" fill="url(#rg)" stroke="#f4ab94" stroke-width="0.9"/>
<path d="M384.8 876C380.7 875.6 376.4 872.4 373.9 869.9C371.4 867.4 370.8 865.4 370.9 862.2C371 858.9 371.8 854.6 374.5 852.1C377.2 849.6 381.7 848.1 385.9 848.2C390.1 848.2 394.4 849.8 397.6 852.4C400.7 854.9 403.7 859 403.5 862.6C403.3 866.1 399.8 869.5 396.4 871.9C393.1 874.3 388.9 876.4 384.8 876Z" fill="url(#rg)" stroke="#f4ab94" stroke-width="0.9"/>
<path d="M324.1 903.9C321.2 908.2 314.4 910.6 309.5 912.1C304.6 913.5 301 914.2 296.9 911.9C292.8 909.6 288 904.1 286.6 899.3C285.2 894.6 286.1 889.4 289 885.5C291.8 881.5 297.6 879 302.4 877.4C307.2 875.8 311.5 874.8 315.7 876.7C319.9 878.7 324 883.5 325.5 888.4C327 893.3 327 899.6 324.1 903.9Z" fill="url(#rg)" stroke="#f4ab94" stroke-width="0.9"/>
<path d="M335.8 868.7C336.9 872.7 336.9 878.1 335.5 881.9C334.1 885.7 331.5 888.7 328 889.8C324.4 890.8 318.9 890.3 315.9 887.7C312.9 885.2 311.9 879.6 311.2 875.7C310.5 871.8 310.6 869 312.2 866.1C313.8 863.2 316.9 860.6 320.1 859.4C323.3 858.3 327 858 329.8 859.7C332.7 861.4 334.8 864.7 335.8 868.7Z" fill="url(#rg)" stroke="#f4ab94" stroke-width="0.9"/>
<path d="M362.5 928C360 925.7 357.6 922 357.3 918.2C357.1 914.5 358.8 909.9 361.3 907.1C363.8 904.4 367.7 903.2 371.2 902.9C374.7 902.6 377.8 903.2 380.7 905.3C383.5 907.3 386.3 910.4 386.9 914.1C387.5 917.9 386.8 923 384.1 926.1C381.3 929.1 375.4 930.8 371.5 931.1C367.6 931.5 365.1 930.4 362.5 928Z" fill="url(#rg)" stroke="#f4ab94" stroke-width="0.9"/>
<path d="M356.8 889C357.2 885.2 358.9 882.1 362.1 879.8C365.3 877.5 371.1 875.9 374.7 876.4C378.3 876.8 379.9 879 382.1 882.2C384.3 885.5 387 890.3 386.9 894.4C386.8 898.5 384.4 902.2 381.5 904.9C378.5 907.6 374.5 910.2 370.5 909.4C366.5 908.7 361.9 904.5 359.4 900.8C357 897.1 356.3 892.8 356.8 889Z" fill="url(#rg)" stroke="#f4ab94" stroke-width="0.9"/>
<path d="M403.7 948.6C400.1 951.3 396.2 953.3 391.2 953C386.3 952.6 379.6 950.1 376.2 946.6C372.8 943.1 372 937.9 372.4 933.3C372.7 928.6 374.3 924 378.1 920.7C381.9 917.5 387.8 914.9 393.4 915.2C399.1 915.5 406.3 918.5 409.5 922.5C412.7 926.5 412.2 932.8 411.1 937.5C410.1 942.2 407.3 945.8 403.7 948.6Z" fill="url(#rg)" stroke="#f4ab94" stroke-width="0.9"/>
<path d="M324.1 915.4C328.4 913.5 333.1 913.4 337.7 915.3C342.2 917.2 347.2 922.3 349.3 925.9C351.5 929.6 351.3 931.8 349.8 935.5C348.3 939.1 345.1 944.1 340.9 946.2C336.8 948.4 331.3 948.6 326.6 947.4C321.9 946.3 317.2 943.6 314.9 939.7C312.6 935.8 312.2 930.2 313.9 925.9C315.6 921.5 319.9 917.3 324.1 915.4Z" fill="url(#rg)" stroke="#f4ab94" stroke-width="0.9"/>
<path d="M350.8 856.9C353 860.3 352.5 865.6 351.6 869.6C350.6 873.7 349.1 877.2 345.5 879.1C342 881.1 335.7 881.2 331.8 880.4C327.9 879.7 325.7 878.5 323.8 875C322 871.4 321.2 864.8 321.6 860.7C322 856.6 323 854 326.1 852.1C329.3 850.3 334.7 849.6 339.2 850.5C343.6 851.3 348.5 853.4 350.8 856.9Z" fill="url(#rg)" stroke="#f4ab94" stroke-width="0.9"/>
<path d="M411.1 889.4C407.8 893.1 403 894.5 397.7 895C392.4 895.4 385.3 894.5 381.5 891.9C377.7 889.2 376.4 884.5 376.4 880.3C376.4 876.1 378.3 872.2 381.6 868.5C384.9 864.8 389.8 861 394.7 859.7C399.6 858.5 404.8 859 408.6 861.6C412.4 864.1 415.4 869 415.8 874C416.3 879 414.3 885.6 411.1 889.4Z" fill="url(#rg)" stroke="#f4ab94" stroke-width="0.9"/>
<path d="M329.3 837.4C330.2 841.2 329.8 847.8 328.5 851.4C327.1 855.1 325.6 856.5 321.7 857.8C317.8 859.1 311.2 860 306.8 858.7C302.3 857.4 298.6 854.3 296.9 850.6C295.3 846.9 295.2 842.1 297.6 838.1C299.9 834.2 305.2 830.1 309.9 828.7C314.6 827.2 320.1 828.6 323.6 830.2C327.1 831.8 328.4 833.6 329.3 837.4Z" fill="url(#rg)" stroke="#f4ab94" stroke-width="0.9"/>
<path d="M314.6 870.1C316.8 873.8 316.3 876.4 314.8 880.4C313.2 884.4 309.6 890.1 305.9 892.5C302.1 894.8 298.1 894.9 294 893.5C289.8 892.1 285 888.7 282.8 884.8C280.6 880.9 281.1 876 282 871.7C282.9 867.5 284.2 863.6 287.9 861.4C291.6 859.2 297.8 858 302.6 859.6C307.4 861.1 312.4 866.3 314.6 870.1Z" fill="url(#rg)" stroke="#f4ab94" stroke-width="0.9"/>
<path d="M354.1 843.1C358.9 842.2 364 844 367.5 846.3C370.9 848.5 372.8 851.7 373.4 855.5C374 859.3 373.2 863.9 370.8 867.4C368.4 870.9 364.5 874.1 360.1 874.9C355.7 875.6 350.4 874.2 346.4 871.7C342.4 869.2 339 864.7 337.9 861C336.8 857.4 337.6 854.7 340.5 851.4C343.4 848.2 349.2 844 354.1 843.1Z" fill="url(#rg)" stroke="#f4ab94" stroke-width="0.9"/>
<path d="M337.5 914.9C332.9 913 330.5 910.5 329.5 906C328.5 901.4 329.4 894.3 332 889.5C334.7 884.8 340 881.3 344.3 879.6C348.6 878 352.2 878 356.1 880.2C360.1 882.4 364.4 887.1 366.3 891.9C368.1 896.8 368.3 902.7 366.3 907.1C364.2 911.6 360.1 915.2 354.9 916.6C349.7 918 342.1 916.8 337.5 914.9Z" fill="url(#rg)" stroke="#f4ab94" stroke-width="0.9"/>
<path d="M404.3 894.4C408.6 894.7 414.1 896.4 417.6 899.7C421.1 902.9 423.3 908.4 423.8 912.5C424.2 916.7 423.1 919.6 420 922.7C416.8 925.8 411.3 929.7 406.2 929.8C401.1 930 395.1 926.9 391.8 923.7C388.5 920.6 387.5 917.1 387.9 912.4C388.2 907.7 390.7 900.8 393.6 897.5C396.6 894.3 400 894 404.3 894.4Z" fill="url(#rg)" stroke="#f4ab94" stroke-width="0.9"/>
<path d="M387.5 808.5C390.9 805.5 394.3 806.1 398.6 807.2C403 808.4 408.7 811.5 411.7 815C414.6 818.4 415.5 822.3 415.1 826.5C414.6 830.8 412.8 836 409.3 838.7C405.7 841.4 400 842.3 395.2 841.4C390.4 840.5 385.5 836.9 382.7 833.7C379.9 830.5 378.9 828.2 379.8 823.6C380.7 819.1 384.1 811.4 387.5 808.5Z" fill="url(#rg)" stroke="#f4ab94" stroke-width="0.9"/>
<path d="M330.8 963.8C328.6 966 324.7 968.4 320.8 968.8C316.9 969.2 312.2 968.2 309.2 966.2C306.2 964.2 304.2 961.2 304.2 957.6C304.1 954 306.5 948.8 308.7 946.1C310.9 943.4 313.2 942.8 316.5 942.6C319.8 942.4 324.1 942.5 327.1 945C330 947.4 332.4 952.8 333 956.2C333.7 959.6 333 961.5 330.8 963.8Z" fill="url(#rg)" stroke="#f4ab94" stroke-width="0.9"/>
<path d="M331.2 952.6C332.2 949.2 335 946.1 338.1 944.4C341.3 942.7 345.4 941.7 348.9 943C352.4 944.3 356 948.5 357.7 951.6C359.4 954.7 359.2 957.1 358.3 960.2C357.4 963.4 355.7 967.5 352.7 969.2C349.7 971 345.3 971.1 341.7 970.1C338.1 969 334.6 966.5 332.7 963.3C330.9 960.2 330.3 956 331.2 952.6Z" fill="url(#rg)" stroke="#f4ab94" stroke-width="0.9"/>
<path d="M204.1 883.2A58 38 0 0 0 260 916" fill="none" stroke="#d9604c" stroke-width="3.1"/>
<path d="M256.8 905.9L277.2 913.6L260.6 927.7Z" fill="#d9604c"/>
<path d="M459.5 928V841.5M445.3 859.3L459.5 840.8L473.7 859.3" fill="none" stroke="#d23c3a" stroke-width="3.4" stroke-linejoin="miter"/>
<path d="M600.7 809.8C607.9 810.1 615.1 811.7 620.9 814.4C626.7 817.1 631.4 821.2 635.3 826C639.1 830.8 642 837.5 644 843.3C646 849.1 647 854.8 647.2 860.6C647.4 866.4 646.6 871.7 645.4 877.9C644.1 884.1 642.3 892 639.7 898C637.1 904 633.9 909.1 629.6 913.9C625.3 918.7 619.5 923.8 613.7 926.9C607.9 930 600.5 931.5 595 932.6C589.5 933.8 585.9 934.5 580.6 933.8C575.3 933.1 568.8 931.4 563.3 928.3C557.8 925.2 552 920.3 547.4 915.3C542.8 910.2 538.7 903.8 535.9 898C533.1 892.2 531.2 886 530.4 880.7C529.5 875.4 529.9 871.3 530.8 866C531.7 860.7 533.6 854.5 535.9 849C538.2 843.5 540.9 837.8 544.5 833.2C548.1 828.6 552 825.1 557.5 821.6C563 818.1 570.5 814.3 577.7 812.3C584.9 810.3 593.5 809.4 600.7 809.8Z" fill="url(#bg1)" stroke="#5296be" stroke-width="0.8"/>
<path d="M665 880.4A58 38 0 0 0 720.9 913.2" fill="none" stroke="#589fc8" stroke-width="3.1"/>
<path d="M717.7 903.1L738.1 910.8L721.5 924.9Z" fill="#589fc8"/>
<path d="M764.2 852.8C767.8 850.1 772.6 848.1 777.2 847.9C781.7 847.8 788.2 849 791.7 852C795.1 854.9 797.6 861 797.8 865.7C798.1 870.4 796.2 876.3 793.3 880.2C790.4 884.1 785 888 780.4 889.1C775.8 890.2 769.9 889 765.8 886.7C761.8 884.4 757.8 879.2 756.2 875.4C754.5 871.6 754.5 867.8 755.8 864.1C757.2 860.3 760.7 855.5 764.2 852.8Z" fill="url(#bg2)" stroke="#5a9cc0" stroke-width="0.8"/>
<path d="M767.5 906.1C771.6 906.5 776.9 909 780.4 912.5C783.8 916 787.6 922.2 788.1 927.1C788.7 931.9 786.3 937.7 783.6 941.6C781 945.6 776.3 949.9 772.3 950.7C768.3 951.5 763 949.3 759.4 946.5C755.8 943.6 752.3 937.9 750.5 933.5C748.7 929.2 747.6 924.5 748.4 920.6C749.2 916.7 752.2 912.5 755.3 910.1C758.5 907.7 763.3 905.7 767.5 906.1Z" fill="url(#bg3)" stroke="#6a9ab6" stroke-width="1"/>
<path d="M827.2 889.1C831.7 888.9 836.8 891.4 840.2 894.8C843.5 898.1 846.4 904.7 847.4 909.3C848.5 913.9 848.1 918.2 846.6 922.2C845.1 926.3 842 931.6 838.5 933.5C835 935.5 829.5 935.2 825.6 933.9C821.7 932.5 817.8 929.3 815.1 925.5C812.4 921.6 809.7 915.8 809.5 910.9C809.2 906.1 810.5 900 813.5 896.4C816.5 892.8 822.8 889.4 827.2 889.1Z" fill="url(#bg2)" stroke="#5a9cc0" stroke-width="0.8"/>
<path d="M876.6 838.6V922M863.8 907.6L876.9 923.6L890 907.6" fill="none" stroke="#1f4468" stroke-width="4.2" stroke-linecap="round" stroke-linejoin="miter"/>
<text x="90" y="970.8" font-size="24" letter-spacing="1.6">YP</text>
<text x="499.6" y="962.6" font-size="24.5" letter-spacing="1.3">WP</text>
<text x="945" y="786" font-size="20" font-weight="bold">C</text>
</g>
</svg>
</body></html>
